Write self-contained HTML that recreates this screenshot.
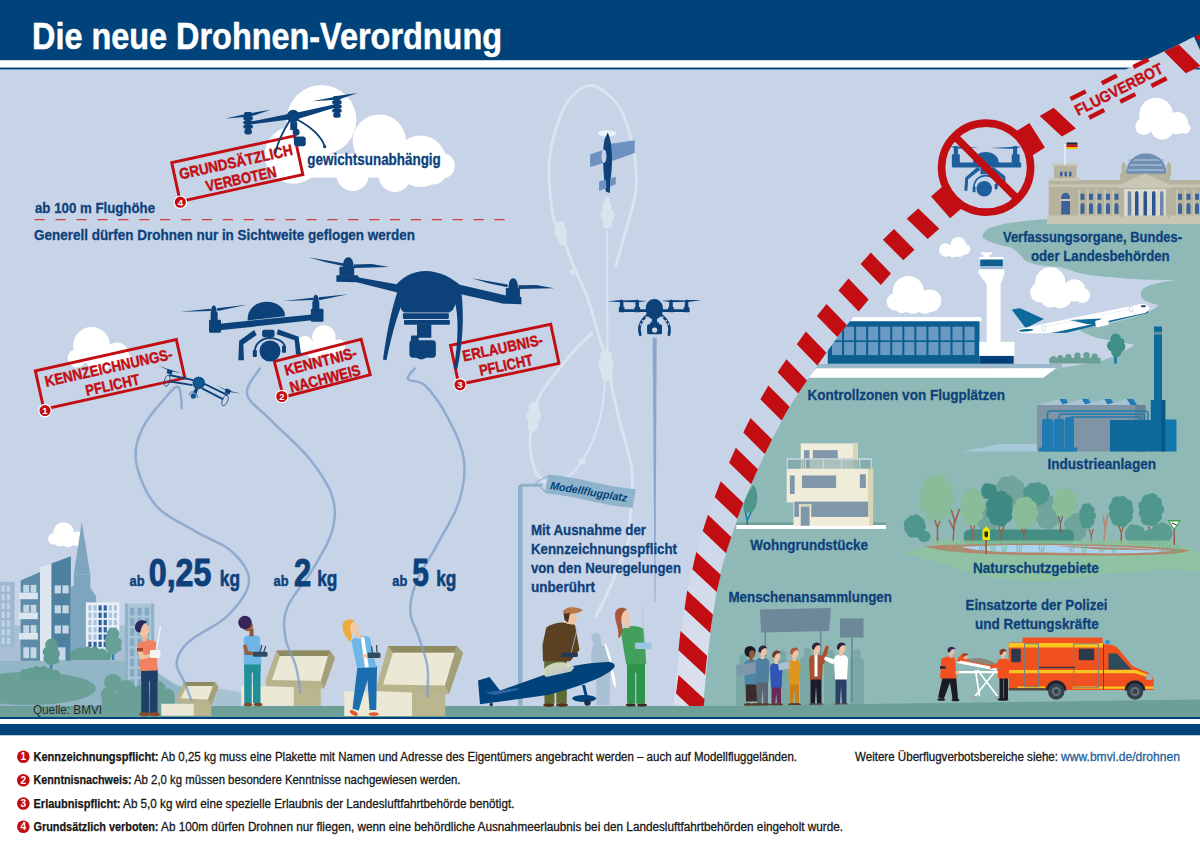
<!DOCTYPE html>
<html lang="de"><head><meta charset="utf-8"><title>Die neue Drohnen-Verordnung</title>
<style>
html,body{margin:0;padding:0;background:#fff;}
svg{display:block}
text{font-family:"Liberation Sans",sans-serif;}
</style></head><body>
<svg width="1200" height="845" viewBox="0 0 1200 845">
<rect x="0" y="0" width="1200" height="845" fill="#fff"/>
<rect x="0" y="60" width="1200" height="660" fill="#c7d3e7"/>
<rect x="0" y="0" width="1200" height="60.4" fill="#00437a"/>
<rect x="0" y="60.4" width="1200" height="7.2" fill="#fff"/>
<rect x="0" y="67.6" width="1200" height="1.8" fill="#00437a"/>
<text x="32" y="49.3" font-size="36" font-weight="bold" fill="#fff" text-anchor="start" textLength="470" lengthAdjust="spacingAndGlyphs" stroke="#fff" stroke-width="0.5">Die neue Drohnen-Verordnung</text>
<circle cx="321.5" cy="119.9" r="34.8" fill="#fff"/><circle cx="379.3" cy="141.0" r="26.6" fill="#fff"/><circle cx="420.5" cy="161.2" r="25.7" fill="#fff"/><circle cx="442.1" cy="165.8" r="12.8" fill="#fff"/><circle cx="433.3" cy="171.3" r="13.2" fill="#fff"/><circle cx="394.8" cy="175.8" r="16.1" fill="#fff"/><circle cx="352.7" cy="174.9" r="16.1" fill="#fff"/><circle cx="293.3" cy="155.0" r="28.7" fill="#fff"/>
<rect x="300" y="153.8" width="133" height="23.8" fill="#fff"/>
<circle cx="91.6" cy="345.4" r="18.4" fill="#fff"/><circle cx="116.8" cy="354.6" r="12.0" fill="#fff"/><circle cx="76.8" cy="358.3" r="9.2" fill="#fff"/><circle cx="99.0" cy="360.1" r="12.4" fill="#fff"/><circle cx="126.4" cy="360.1" r="6.0" fill="#fff"/>
<circle cx="323.9" cy="337.0" r="11.7" fill="#fff"/><circle cx="304.7" cy="344.5" r="8.5" fill="#fff"/><circle cx="338.8" cy="345.6" r="6.4" fill="#fff"/><circle cx="315.0" cy="350.0" r="9.0" fill="#fff"/><circle cx="330.0" cy="350.0" r="8.0" fill="#fff"/>
<circle cx="63.6" cy="532.5" r="10.2" fill="#fff"/><circle cx="77.2" cy="538.8" r="7.3" fill="#fff"/><circle cx="53.9" cy="538.8" r="5.8" fill="#fff"/><circle cx="68.0" cy="540.5" r="6.8" fill="#fff"/><circle cx="59.5" cy="541.2" r="5.3" fill="#fff"/>
<circle cx="1156.1" cy="114.6" r="16.9" fill="#fff"/><circle cx="1177.0" cy="123.1" r="11.0" fill="#fff"/><circle cx="1143.8" cy="126.5" r="8.5" fill="#fff"/><circle cx="1162.2" cy="128.2" r="11.4" fill="#fff"/><circle cx="1185.0" cy="128.2" r="5.5" fill="#fff"/>
<g transform="translate(0,515) scale(0.24272)" ><rect x="0" y="455" width="545" height="160" fill="#a9bfd4"/><path d="M746,707 L904,716 L989,730 L1100,790 L746,790 Z" fill="#a6c2d3"/><path d="M0,600 L640,600 L640,643 C680,672 720,700 746,707 L746,790 L0,790 Z" fill="#93b6c7"/><rect x="0" y="275" width="60" height="270" fill="#9db8cf"/><rect x="6" y="290" width="14" height="26" fill="#bfd2e3"/><rect x="28" y="290" width="14" height="26" fill="#bfd2e3"/><rect x="6" y="326" width="14" height="26" fill="#bfd2e3"/><rect x="28" y="326" width="14" height="26" fill="#bfd2e3"/><rect x="6" y="362" width="14" height="26" fill="#bfd2e3"/><rect x="28" y="362" width="14" height="26" fill="#bfd2e3"/><rect x="6" y="398" width="14" height="26" fill="#bfd2e3"/><rect x="28" y="398" width="14" height="26" fill="#bfd2e3"/><rect x="6" y="434" width="14" height="26" fill="#bfd2e3"/><rect x="28" y="434" width="14" height="26" fill="#bfd2e3"/><rect x="6" y="470" width="14" height="26" fill="#bfd2e3"/><rect x="28" y="470" width="14" height="26" fill="#bfd2e3"/><rect x="6" y="506" width="14" height="26" fill="#bfd2e3"/><rect x="28" y="506" width="14" height="26" fill="#bfd2e3"/><polygon points="85,270 165,235 165,600 85,600" fill="#5d8ca8"/><polygon points="165,215 212,200 212,600 165,600" fill="#dde6ef"/><polygon points="212,200 292,170 292,600 212,600" fill="#4d819f"/><rect x="78" y="320" width="78" height="27" fill="#dde6ef"/><rect x="96" y="288" width="24" height="32" fill="#c5d7e4"/><rect x="126" y="288" width="24" height="32" fill="#c5d7e4"/><rect x="78" y="402" width="78" height="27" fill="#dde6ef"/><rect x="96" y="370" width="24" height="32" fill="#c5d7e4"/><rect x="126" y="370" width="24" height="32" fill="#c5d7e4"/><rect x="78" y="486" width="78" height="27" fill="#dde6ef"/><rect x="96" y="454" width="24" height="32" fill="#c5d7e4"/><rect x="126" y="454" width="24" height="32" fill="#c5d7e4"/><rect x="96" y="545" width="24" height="45" fill="#c5d7e4"/><rect x="126" y="545" width="24" height="45" fill="#c5d7e4"/><rect x="225" y="290" width="26" height="33" fill="#c5d7e4"/><rect x="257" y="290" width="26" height="33" fill="#c5d7e4"/><rect x="225" y="372" width="26" height="33" fill="#c5d7e4"/><rect x="257" y="372" width="26" height="33" fill="#c5d7e4"/><rect x="225" y="455" width="26" height="33" fill="#c5d7e4"/><rect x="257" y="455" width="26" height="33" fill="#c5d7e4"/><rect x="238" y="545" width="32" height="55" fill="#c5d7e4"/><polygon points="337,28 372,245 304,245" fill="#7da5bf"/><polygon points="304,245 372,245 372,300 396,335 396,560 290,560 290,300 304,290" fill="#7da5bf"/><rect x="354" y="360" width="138" height="195" fill="#e9eff6"/><rect x="364" y="372" width="13" height="22" fill="#a9c5de"/><rect x="385" y="372" width="13" height="22" fill="#a9c5de"/><rect x="406" y="372" width="13" height="22" fill="#2f62a0"/><rect x="427" y="372" width="13" height="22" fill="#2f62a0"/><rect x="448" y="372" width="13" height="22" fill="#a9c5de"/><rect x="469" y="372" width="13" height="22" fill="#a9c5de"/><rect x="364" y="402" width="13" height="22" fill="#a9c5de"/><rect x="385" y="402" width="13" height="22" fill="#a9c5de"/><rect x="406" y="402" width="13" height="22" fill="#2f62a0"/><rect x="427" y="402" width="13" height="22" fill="#2f62a0"/><rect x="448" y="402" width="13" height="22" fill="#a9c5de"/><rect x="469" y="402" width="13" height="22" fill="#a9c5de"/><rect x="364" y="432" width="13" height="22" fill="#a9c5de"/><rect x="385" y="432" width="13" height="22" fill="#a9c5de"/><rect x="406" y="432" width="13" height="22" fill="#2f62a0"/><rect x="427" y="432" width="13" height="22" fill="#2f62a0"/><rect x="448" y="432" width="13" height="22" fill="#a9c5de"/><rect x="469" y="432" width="13" height="22" fill="#a9c5de"/><rect x="364" y="462" width="13" height="22" fill="#a9c5de"/><rect x="385" y="462" width="13" height="22" fill="#a9c5de"/><rect x="406" y="462" width="13" height="22" fill="#2f62a0"/><rect x="427" y="462" width="13" height="22" fill="#2f62a0"/><rect x="448" y="462" width="13" height="22" fill="#a9c5de"/><rect x="469" y="462" width="13" height="22" fill="#a9c5de"/><rect x="364" y="492" width="13" height="22" fill="#a9c5de"/><rect x="385" y="492" width="13" height="22" fill="#a9c5de"/><rect x="406" y="492" width="13" height="22" fill="#2f62a0"/><rect x="427" y="492" width="13" height="22" fill="#2f62a0"/><rect x="448" y="492" width="13" height="22" fill="#a9c5de"/><rect x="469" y="492" width="13" height="22" fill="#a9c5de"/><rect x="364" y="522" width="13" height="22" fill="#2f62a0"/><rect x="385" y="522" width="13" height="22" fill="#2f62a0"/><rect x="406" y="522" width="13" height="22" fill="#2f62a0"/><rect x="427" y="522" width="13" height="22" fill="#2f62a0"/><rect x="448" y="522" width="13" height="22" fill="#a9c5de"/><rect x="469" y="522" width="13" height="22" fill="#a9c5de"/><rect x="515" y="365" width="120" height="340" fill="#a9c5d8"/><rect x="515" y="365" width="12" height="340" fill="#8fb2c8"/><rect x="623" y="365" width="12" height="340" fill="#8fb2c8"/><rect x="536" y="382" width="18" height="32" fill="#84a9c2"/><rect x="566" y="382" width="18" height="32" fill="#84a9c2"/><rect x="596" y="382" width="18" height="32" fill="#84a9c2"/><rect x="536" y="424" width="18" height="32" fill="#84a9c2"/><rect x="566" y="424" width="18" height="32" fill="#84a9c2"/><rect x="596" y="424" width="18" height="32" fill="#84a9c2"/><rect x="536" y="466" width="18" height="32" fill="#84a9c2"/><rect x="566" y="466" width="18" height="32" fill="#84a9c2"/><rect x="596" y="466" width="18" height="32" fill="#84a9c2"/><rect x="536" y="508" width="18" height="32" fill="#84a9c2"/><rect x="566" y="508" width="18" height="32" fill="#84a9c2"/><rect x="596" y="508" width="18" height="32" fill="#84a9c2"/><rect x="536" y="550" width="18" height="32" fill="#84a9c2"/><rect x="566" y="550" width="18" height="32" fill="#84a9c2"/><rect x="596" y="550" width="18" height="32" fill="#84a9c2"/><rect x="536" y="592" width="18" height="32" fill="#84a9c2"/><rect x="566" y="592" width="18" height="32" fill="#84a9c2"/><rect x="596" y="592" width="18" height="32" fill="#84a9c2"/><rect x="536" y="634" width="18" height="32" fill="#84a9c2"/><rect x="566" y="634" width="18" height="32" fill="#84a9c2"/><rect x="596" y="634" width="18" height="32" fill="#84a9c2"/><rect x="536" y="676" width="18" height="32" fill="#84a9c2"/><rect x="566" y="676" width="18" height="32" fill="#84a9c2"/><rect x="596" y="676" width="18" height="32" fill="#84a9c2"/><rect x="206" y="600" width="10" height="48" fill="#3f7dab"/><circle cx="212" cy="535" r="26" fill="#5f9b91"/><circle cx="200" cy="565" r="24" fill="#5f9b91"/><circle cx="225" cy="572" r="22" fill="#5f9b91"/><circle cx="210" cy="595" r="24" fill="#5f9b91"/><circle cx="195" cy="590" r="16" fill="#5f9b91"/><circle cx="230" cy="598" r="14" fill="#5f9b91"/><rect x="461" y="560" width="10" height="38" fill="#3f7dab"/><circle cx="466" cy="490" r="26" fill="#66a096"/><circle cx="455" cy="520" r="24" fill="#66a096"/><circle cx="480" cy="525" r="22" fill="#66a096"/><circle cx="466" cy="548" r="26" fill="#66a096"/><circle cx="448" cy="545" r="14" fill="#66a096"/><circle cx="488" cy="550" r="12" fill="#66a096"/><circle cx="305" cy="575" r="18" fill="#639d92"/><circle cx="330" cy="565" r="20" fill="#639d92"/><circle cx="360" cy="560" r="18" fill="#639d92"/><circle cx="390" cy="562" r="20" fill="#639d92"/><circle cx="420" cy="568" r="18" fill="#639d92"/><circle cx="445" cy="578" r="14" fill="#639d92"/><rect x="290" y="570" width="165" height="28" fill="#639d92"/><ellipse cx="120" cy="715" rx="275" ry="68" fill="#6d9f99"/><circle cx="100" cy="650" r="16" fill="#639d92"/><circle cx="125" cy="645" r="16" fill="#639d92"/><circle cx="150" cy="640" r="18" fill="#639d92"/><circle cx="180" cy="640" r="18" fill="#639d92"/><circle cx="205" cy="645" r="16" fill="#639d92"/><circle cx="230" cy="655" r="16" fill="#639d92"/><rect x="84" y="650" width="165" height="32" rx="6" fill="#639d92"/><circle cx="465" cy="690" r="36" fill="#6a9f96"/><circle cx="520" cy="720" r="40" fill="#6a9f96"/><circle cx="445" cy="740" r="30" fill="#6a9f96"/><circle cx="580" cy="735" r="34" fill="#6a9f96"/><circle cx="650" cy="715" r="32" fill="#6a9f96"/><circle cx="690" cy="745" r="30" fill="#6a9f96"/><circle cx="480" cy="770" r="40" fill="#6a9f96"/><circle cx="560" cy="770" r="40" fill="#6a9f96"/><circle cx="640" cy="770" r="40" fill="#6a9f96"/><rect x="420" y="740" width="300" height="50" fill="#6a9f96"/></g>
<path fill="#8fb9b6" d="M701.9,707.5 L702.0,706.6 L702.1,705.7 L702.2,705.0 L702.3,704.4 L702.3,703.8 L702.4,703.3 L702.5,702.8 L702.6,702.2 L702.6,701.7 L702.7,701.1 L702.8,700.5 L702.9,699.8 L703.0,699.0 L703.1,698.2 L703.2,697.3 L703.4,696.4 L703.5,695.3 L703.6,694.1 L703.8,692.9 L703.9,691.5 L704.1,689.9 L704.2,688.3 L704.4,686.5 L704.6,684.7 L704.8,682.8 L705.0,680.8 L705.2,678.7 L705.3,676.6 L705.5,674.4 L705.8,672.2 L706.0,670.0 L706.2,667.8 L706.4,665.5 L706.6,663.3 L706.8,661.1 L707.0,658.9 L707.3,656.7 L707.5,654.6 L707.7,652.5 L707.9,650.5 L708.1,648.6 L708.4,646.6 L708.6,644.6 L708.8,642.7 L709.0,640.7 L709.3,638.8 L709.5,636.9 L709.7,635.0 L710.0,633.0 L710.2,631.1 L710.4,629.2 L710.7,627.3 L710.9,625.4 L711.2,623.5 L711.5,621.6 L711.7,619.7 L712.0,617.8 L712.3,615.9 L712.5,614.0 L712.8,612.1 L713.1,610.2 L713.4,608.2 L713.7,606.3 L714.0,604.3 L714.3,602.4 L714.7,600.4 L715.0,598.5 L715.3,596.6 L715.6,594.7 L715.9,592.8 L716.3,590.8 L716.6,589.0 L716.9,587.1 L717.3,585.2 L717.7,583.3 L718.0,581.5 L718.4,579.6 L718.8,577.8 L719.2,576.0 L719.6,574.2 L720.1,572.4 L720.5,570.7 L721.0,568.9 L721.4,567.1 L721.9,565.3 L722.4,563.5 L723.0,561.7 L723.5,559.9 L724.0,558.1 L724.6,556.3 L725.1,554.5 L725.7,552.7 L726.3,550.9 L726.8,549.1 L727.4,547.3 L728.0,545.5 L728.6,543.7 L729.2,541.9 L729.7,540.1 L730.3,538.3 L730.9,536.6 L731.4,534.8 L732.0,533.1 L732.6,531.4 L733.1,529.7 L733.7,528.1 L734.3,526.4 L734.8,524.7 L735.4,523.1 L736.0,521.5 L736.6,519.8 L737.2,518.2 L737.7,516.5 L738.3,514.9 L738.9,513.3 L739.5,511.7 L740.2,510.0 L740.8,508.4 L741.4,506.7 L742.0,505.1 L742.7,503.4 L743.3,501.8 L744.0,500.1 L744.7,498.4 L745.4,496.8 L746.1,495.1 L746.8,493.4 L747.5,491.7 L748.2,490.0 L749.0,488.3 L749.7,486.6 L750.4,484.9 L751.2,483.2 L751.9,481.5 L752.6,479.9 L753.4,478.2 L754.1,476.6 L754.8,474.9 L755.6,473.3 L756.3,471.7 L757.0,470.2 L757.7,468.6 L758.4,467.1 L759.0,465.6 L759.7,464.1 L760.4,462.7 L761.1,461.2 L761.7,459.8 L762.4,458.4 L763.1,456.9 L763.8,455.5 L764.4,454.1 L765.1,452.6 L765.8,451.2 L766.5,449.7 L767.2,448.3 L768.0,446.8 L768.7,445.3 L769.5,443.8 L770.2,442.3 L771.0,440.7 L771.8,439.1 L772.6,437.4 L773.5,435.8 L774.3,434.1 L775.2,432.4 L776.0,430.8 L776.9,429.1 L777.7,427.4 L778.6,425.7 L779.5,424.1 L780.3,422.4 L781.2,420.8 L782.1,419.1 L782.9,417.5 L783.8,416.0 L784.6,414.4 L785.5,412.9 L786.3,411.5 L787.1,410.0 L787.9,408.6 L788.7,407.3 L789.5,406.0 L790.3,404.7 L791.1,403.4 L791.9,402.1 L792.7,400.9 L793.5,399.6 L794.4,398.4 L795.2,397.1 L796.0,395.9 L796.8,394.6 L797.7,393.4 L798.5,392.1 L799.4,390.9 L800.3,389.6 L801.2,388.3 L802.1,386.9 L803.0,385.6 L803.9,384.2 L804.8,382.9 L805.7,381.5 L806.7,380.1 L807.6,378.8 L808.5,377.4 L809.5,376.0 L810.4,374.7 L811.4,373.3 L812.3,371.9 L813.3,370.5 L814.2,369.1 L815.2,367.7 L816.2,366.3 L817.1,364.9 L1054.0,369.0 L1055.9,368.7 L1058.3,368.3 L1061.3,367.8 L1064.6,367.2 L1068.0,366.7 L1071.5,366.1 L1074.9,365.5 L1078.0,365.0 L1080.9,364.5 L1083.8,364.1 L1086.7,363.7 L1089.5,363.3 L1092.4,362.8 L1095.2,362.3 L1097.9,361.7 L1100.6,361.0 L1103.3,360.2 L1105.9,359.2 L1108.6,358.2 L1111.2,357.2 L1113.7,356.1 L1116.2,354.9 L1118.5,353.8 L1120.7,352.8 L1122.8,351.7 L1125.0,350.6 L1127.0,349.4 L1129.0,348.2 L1130.8,347.1 L1132.4,346.2 L1133.8,345.3 L1134.8,344.7 L1134.8,344.7 L1133.1,344.4 L1130.7,344.0 L1127.9,343.4 L1124.8,342.9 L1121.5,342.3 L1118.3,341.7 L1115.3,341.2 L1112.7,340.7 L1110.4,340.3 L1108.2,339.9 L1106.0,339.6 L1104.0,339.3 L1102.1,338.9 L1100.2,338.6 L1098.4,338.2 L1096.6,337.7 L1094.9,337.2 L1093.2,336.6 L1091.5,335.9 L1089.9,335.2 L1088.5,334.6 L1087.0,333.9 L1085.7,333.3 L1084.5,332.7 L1083.4,332.2 L1082.3,331.6 L1081.4,331.1 L1080.5,330.5 L1079.7,330.1 L1079.0,329.6 L1078.5,329.3 L1078.0,329.0 L1078.0,329.0 L1079.7,328.7 L1082.0,328.3 L1084.7,327.8 L1087.7,327.3 L1090.9,326.7 L1094.1,326.1 L1097.2,325.5 L1100.0,325.0 L1102.6,324.5 L1105.2,324.0 L1107.7,323.5 L1110.2,323.0 L1112.7,322.5 L1115.3,321.9 L1118.0,321.3 L1120.7,320.6 L1123.6,319.9 L1126.7,319.1 L1130.0,318.2 L1133.2,317.3 L1136.4,316.4 L1139.5,315.5 L1142.3,314.5 L1144.9,313.6 L1147.2,312.6 L1149.5,311.5 L1151.5,310.3 L1153.5,309.1 L1155.2,308.0 L1156.7,307.0 L1158.0,306.1 L1159.0,305.5 L1159.0,305.5 L1157.9,305.1 L1156.3,304.6 L1154.3,304.0 L1152.3,303.4 L1150.1,302.7 L1148.1,301.9 L1146.4,301.2 L1145.0,300.5 L1143.9,299.8 L1143.1,299.1 L1142.3,298.3 L1141.8,297.6 L1141.3,296.8 L1141.0,296.0 L1140.9,295.2 L1140.8,294.4 L1140.8,293.6 L1141.0,292.7 L1141.2,291.8 L1141.6,290.8 L1142.2,289.9 L1142.9,289.0 L1143.9,288.2 L1145.0,287.4 L1146.4,286.7 L1148.2,285.9 L1150.2,285.3 L1152.4,284.6 L1154.6,284.0 L1156.9,283.4 L1159.0,282.9 L1161.0,282.4 L1162.9,282.0 L1165.0,281.6 L1167.0,281.2 L1169.0,280.9 L1170.9,280.6 L1172.5,280.4 L1173.9,280.2 L1175.0,280.0 L1175.0,280.0 L1172.4,280.0 L1169.0,280.0 L1164.9,279.9 L1160.4,279.9 L1155.6,279.8 L1150.6,279.7 L1145.6,279.6 L1140.8,279.4 L1135.9,279.1 L1130.7,278.8 L1125.3,278.4 L1119.8,278.0 L1114.5,277.6 L1109.4,277.1 L1104.7,276.7 L1100.6,276.3 L1097.1,275.9 L1094.2,275.6 L1091.6,275.3 L1089.3,275.0 L1087.2,274.6 L1085.1,274.3 L1082.9,273.8 L1080.5,273.3 L1078.0,272.7 L1075.5,271.9 L1073.0,271.1 L1070.5,270.2 L1068.0,269.4 L1065.4,268.6 L1062.9,267.9 L1060.4,267.3 L1057.8,266.9 L1055.2,266.6 L1052.5,266.4 L1049.8,266.2 L1047.2,266.0 L1044.7,265.9 L1042.2,265.6 L1040.0,265.3 L1037.9,264.9 L1035.8,264.4 L1033.8,263.8 L1032.0,263.3 L1030.2,262.7 L1028.6,262.1 L1027.2,261.5 L1026.0,261.0 L1025.1,260.5 L1024.4,260.1 L1024.0,259.7 L1023.8,259.3 L1023.5,258.9 L1023.2,258.3 L1022.7,257.7 L1022.0,257.0 L1021.1,256.1 L1020.0,255.0 L1018.8,253.7 L1017.5,252.4 L1016.2,251.2 L1014.8,249.9 L1013.4,248.9 L1012.0,248.0 L1010.6,247.3 L1009.1,246.9 L1007.6,246.5 L1006.1,246.2 L1004.6,245.9 L1003.0,245.7 L1001.5,245.4 L1000.0,245.0 L998.5,244.5 L996.9,244.1 L995.2,243.6 L993.6,243.1 L992.1,242.5 L990.6,242.0 L989.2,241.5 L988.0,241.0 L986.9,240.5 L985.9,239.9 L985.0,239.3 L984.2,238.8 L983.5,238.2 L982.9,237.7 L982.4,237.3 L982.0,237.0 L982.0,237.0 L982.4,236.4 L982.7,235.5 L983.1,234.5 L983.6,233.4 L984.3,232.2 L985.2,231.0 L986.4,230.0 L988.0,229.0 L989.9,228.1 L992.0,227.3 L994.3,226.5 L996.9,225.8 L999.8,225.0 L1002.9,224.3 L1006.3,223.6 L1010.0,223.0 L1014.0,222.4 L1018.3,221.8 L1022.9,221.3 L1027.7,220.8 L1032.7,220.3 L1038.0,219.8 L1043.4,219.4 L1049.0,219.0 L1054.5,218.7 L1059.8,218.4 L1065.1,218.1 L1070.7,217.9 L1076.8,217.7 L1083.5,217.5 L1091.2,217.3 L1100.0,217.0 L1110.8,216.7 L1123.9,216.2 L1138.3,215.8 L1153.2,215.4 L1167.7,214.9 L1180.9,214.6 L1192.0,214.2 L1200.0,214.0 L1200.0,214.0 L1200.0,712.0 Z"/>
<g transform="translate(800,240) scale(0.21668)" ><polygon points="60,572 1210,572 1210,592 40,592" fill="#9bb7ca"/><polygon points="75,592 1182,592 1122,636 38,636" fill="#fff"/><polygon points="245,355 835,355 840,376 225,376" fill="#fff"/><polygon points="228,375 828,375 828,571 128,571 128,482" fill="#0d5f92"/><clipPath id="termclip"><polygon points="222,390 828,390 828,560 140,560 140,480"/></clipPath><g clip-path="url(#termclip)"><rect x="148.0" y="400" width="46" height="63" fill="#6a9ac4"/><rect x="203.6" y="400" width="46" height="63" fill="#6a9ac4"/><rect x="259.2" y="400" width="46" height="63" fill="#6a9ac4"/><rect x="314.8" y="400" width="46" height="63" fill="#6a9ac4"/><rect x="370.4" y="400" width="46" height="63" fill="#6a9ac4"/><rect x="426.0" y="400" width="46" height="63" fill="#6a9ac4"/><rect x="481.6" y="400" width="46" height="63" fill="#6a9ac4"/><rect x="537.2" y="400" width="46" height="63" fill="#6a9ac4"/><rect x="592.8" y="400" width="46" height="63" fill="#6a9ac4"/><rect x="648.4" y="400" width="46" height="63" fill="#6a9ac4"/><rect x="704.0" y="400" width="46" height="63" fill="#6a9ac4"/><rect x="759.6" y="400" width="46" height="63" fill="#6a9ac4"/><rect x="148.0" y="471" width="46" height="60" fill="#6a9ac4"/><rect x="203.6" y="471" width="46" height="60" fill="#6a9ac4"/><rect x="259.2" y="471" width="46" height="60" fill="#6a9ac4"/><rect x="314.8" y="471" width="46" height="60" fill="#6a9ac4"/><rect x="370.4" y="471" width="46" height="60" fill="#6a9ac4"/><rect x="426.0" y="471" width="46" height="60" fill="#6a9ac4"/><rect x="481.6" y="471" width="46" height="60" fill="#6a9ac4"/><rect x="537.2" y="471" width="46" height="60" fill="#6a9ac4"/><rect x="592.8" y="471" width="46" height="60" fill="#6a9ac4"/><rect x="648.4" y="471" width="46" height="60" fill="#6a9ac4"/><rect x="704.0" y="471" width="46" height="60" fill="#6a9ac4"/><rect x="759.6" y="471" width="46" height="60" fill="#6a9ac4"/></g><rect x="828" y="470" width="162" height="66" fill="#fff"/><rect x="828" y="535" width="158" height="36" fill="#003f77"/><polygon points="818,145 946,145 926,205 926,472 862,472 862,205" fill="#fff"/><rect x="832" y="86" width="104" height="36" fill="#0d5f92"/><rect x="827" y="78" width="112" height="12" rx="3" fill="#fff"/><rect x="834" y="120" width="100" height="17" fill="#9dbbd8"/><rect x="826" y="135" width="116" height="12" fill="#fff"/><rect x="846" y="62" width="30" height="18" fill="#fff"/><rect x="835" y="57" width="52" height="9" rx="3" fill="#fff"/><circle cx="500.0" cy="238.0" r="72.0" fill="#fff"/><circle cx="600.0" cy="280.0" r="52.0" fill="#fff"/><circle cx="440.0" cy="285.0" r="40.0" fill="#fff"/><circle cx="520.0" cy="290.0" r="50.0" fill="#fff"/><circle cx="470.0" cy="300.0" r="38.0" fill="#fff"/><circle cx="575.0" cy="300.0" r="40.0" fill="#fff"/><circle cx="730.5" cy="21.7" r="35.5" fill="#fff"/><circle cx="672.9" cy="46.0" r="31.0" fill="#fff"/><circle cx="761.5" cy="42.5" r="24.5" fill="#fff"/><circle cx="707.5" cy="54.0" r="27.0" fill="#fff"/><circle cx="735.0" cy="52.0" r="26.0" fill="#fff"/></g>
<g transform="translate(1000,220) scale(0.20121)" ><circle cx="250.0" cy="310.0" r="75.0" fill="#fff"/><circle cx="370.0" cy="350.0" r="55.0" fill="#fff"/><circle cx="200.0" cy="360.0" r="50.0" fill="#fff"/><circle cx="300.0" cy="380.0" r="58.0" fill="#fff"/><circle cx="410.0" cy="375.0" r="38.0" fill="#fff"/><circle cx="250.0" cy="385.0" r="50.0" fill="#fff"/><polygon points="58,445 100,438 218,492 128,538" fill="#0e6a9b"/><path d="M88,548 C100,538 120,536 135,533 L700,418 C725,415 745,430 742,443 C740,455 725,462 712,465 L300,556 C230,565 150,566 120,562 C95,560 85,555 88,548 Z" fill="#fff"/><path d="M255,562 L715,463 C725,460 735,455 740,447 L735,462 L330,560 Z" fill="#0e6a9b"/><polygon points="348,497 505,490 470,522 425,516" fill="#0e6a9b"/><rect x="474" y="494" width="66" height="34" rx="8" fill="#fff" transform="rotate(-12 507 511)"/><ellipse cx="130" cy="548" rx="36" ry="6" fill="#0e6a9b" transform="rotate(-5 130 548)"/><path d="M225,530 L440,487 M490,475 L640,445" stroke="#b9c9d8" stroke-width="4" stroke-dasharray="3,5"/><rect x="208" y="524" width="16" height="26" rx="4" fill="none" stroke="#b9c9d8" stroke-width="3" transform="rotate(-12 216 537)"/><rect x="643" y="430" width="16" height="26" rx="4" fill="none" stroke="#b9c9d8" stroke-width="3" transform="rotate(-12 651 443)"/><path d="M700,424 L722,424 L726,432 L703,434 Z" fill="#1f3f66"/><rect x="567" y="672" width="14" height="42" fill="#1f7aa8"/><circle cx="575" cy="590" r="26" fill="#3f8f86"/><circle cx="560" cy="625" r="28" fill="#3f8f86"/><circle cx="595" cy="630" r="28" fill="#3f8f86"/><circle cx="578" cy="655" r="26" fill="#3f8f86"/><circle cx="600" cy="605" r="18" fill="#3f8f86"/><circle cx="265" cy="690" r="14" fill="#6a9f96"/><circle cx="300" cy="685" r="14" fill="#6a9f96"/><circle cx="340" cy="682" r="16" fill="#6a9f96"/><circle cx="385" cy="675" r="16" fill="#6a9f96"/><circle cx="430" cy="672" r="16" fill="#6a9f96"/><circle cx="470" cy="680" r="16" fill="#6a9f96"/><rect x="245" y="685" width="255" height="28" rx="5" fill="#6a9f96"/></g>
<g transform="translate(900,30) scale(0.25000)" ><path d="M908,580 C908,525 945,498 985,498 C1025,498 1062,525 1062,580 Z" fill="#6e90b2"/><path d="M912,520 L1058,520" stroke="#a4bbd1" stroke-width="6"/><path d="M910,540 L1058,540" stroke="#a4bbd1" stroke-width="6"/><path d="M908,560 L1058,560" stroke="#a4bbd1" stroke-width="6"/><path d="M908,580 C908,525 945,498 985,498 C1025,498 1062,525 1062,580" fill="none" stroke="#6e90b2" stroke-width="8"/><rect x="595" y="600" width="620" height="150" fill="#b5b3a0"/><rect x="588" y="742" width="630" height="34" fill="#c8c6b5"/><rect x="598" y="618" width="620" height="10" fill="#c8c6b5"/><rect x="616" y="540" width="90" height="70" fill="#b5b3a0"/><rect x="610" y="534" width="102" height="10" fill="#c8c6b5"/><rect x="600" y="592" width="120" height="12" fill="#c8c6b5"/><rect x="640" y="566" width="10" height="20" rx="4" fill="#3d6298"/><rect x="658" y="566" width="10" height="20" rx="4" fill="#3d6298"/><rect x="676" y="566" width="10" height="20" rx="4" fill="#3d6298"/><path d="M645,738 L645,670 C645,645 680,645 680,670 L680,738 Z" fill="#3d6298"/><rect x="640" y="676" width="45" height="8" fill="#c8c6b5"/><rect x="658" y="455" width="4" height="85" fill="#fff"/><rect x="666" y="450" width="44" height="9" fill="#222"/><rect x="666" y="459" width="44" height="9" fill="#d4141a"/><rect x="666" y="468" width="44" height="8" fill="#f2c300"/><rect x="722" y="655" width="16" height="24" fill="#3d6298"/><path d="M722,735 L722,702 C722,688 738,688 738,702 L738,735 Z" fill="#3d6298"/><rect x="714" y="640" width="6" height="100" fill="#c8c6b5"/><rect x="756" y="655" width="16" height="24" fill="#3d6298"/><path d="M756,735 L756,702 C756,688 772,688 772,702 L772,735 Z" fill="#3d6298"/><rect x="748" y="640" width="6" height="100" fill="#c8c6b5"/><rect x="790" y="655" width="16" height="24" fill="#3d6298"/><path d="M790,735 L790,702 C790,688 806,688 806,702 L806,735 Z" fill="#3d6298"/><rect x="782" y="640" width="6" height="100" fill="#c8c6b5"/><rect x="824" y="655" width="16" height="24" fill="#3d6298"/><path d="M824,735 L824,702 C824,688 840,688 840,702 L840,735 Z" fill="#3d6298"/><rect x="816" y="640" width="6" height="100" fill="#c8c6b5"/><rect x="858" y="655" width="16" height="24" fill="#3d6298"/><path d="M858,735 L858,702 C858,688 874,688 874,702 L874,735 Z" fill="#3d6298"/><rect x="850" y="640" width="6" height="100" fill="#c8c6b5"/><rect x="1112" y="655" width="16" height="24" fill="#3d6298"/><path d="M1112,735 L1112,702 C1112,688 1128,688 1128,702 L1128,735 Z" fill="#3d6298"/><rect x="1104" y="640" width="6" height="100" fill="#c8c6b5"/><rect x="1146" y="655" width="16" height="24" fill="#3d6298"/><path d="M1146,735 L1146,702 C1146,688 1162,688 1162,702 L1162,735 Z" fill="#3d6298"/><rect x="1138" y="640" width="6" height="100" fill="#c8c6b5"/><rect x="1180" y="655" width="16" height="24" fill="#3d6298"/><path d="M1180,735 L1180,702 C1180,688 1196,688 1196,702 L1196,735 Z" fill="#3d6298"/><rect x="1172" y="640" width="6" height="100" fill="#c8c6b5"/><rect x="880" y="575" width="200" height="175" fill="#b5b3a0"/><polygon points="872,622 980,574 1088,622" fill="#c8c6b5"/><rect x="872" y="620" width="216" height="12" fill="#c8c6b5"/><rect x="886" y="540" width="18" height="45" fill="#b5b3a0"/><polygon points="886,542 895,525 904,542" fill="#b5b3a0"/><rect x="1066" y="540" width="18" height="45" fill="#b5b3a0"/><polygon points="1066,542 1075,525 1084,542" fill="#b5b3a0"/><rect x="896" y="636" width="168" height="116" fill="#d9d9cd"/><path d="M911,752 L911,655 C911,640 925,640 925,655 L925,752 Z" fill="#6f86ab"/><path d="M940,752 L940,655 C940,640 954,640 954,655 L954,752 Z" fill="#2a538f"/><path d="M974,752 L974,655 C974,640 988,640 988,655 L988,752 Z" fill="#2a538f"/><path d="M1008,752 L1008,655 C1008,640 1022,640 1022,655 L1022,752 Z" fill="#2a538f"/><path d="M1040,752 L1040,655 C1040,640 1054,640 1054,655 L1054,752 Z" fill="#6f86ab"/><rect x="890" y="742" width="180" height="10" fill="#c8c6b5"/></g>
<g transform="translate(900,380) scale(0.25000)" ><polygon points="250,286 400,256 552,256 552,286" fill="#a6c8da"/><rect x="548" y="100" width="434" height="186" fill="#7f94a4"/><polygon points="552,100 637,76 667,76 680,100" fill="#a9c3d6"/><polygon points="637,76 664,76 678,100 652,100" fill="#1f7bb1"/><polygon points="642,100 727,76 757,76 770,100" fill="#a9c3d6"/><polygon points="727,76 754,76 768,100 742,100" fill="#1f7bb1"/><polygon points="732,100 817,76 847,76 860,100" fill="#a9c3d6"/><polygon points="817,76 844,76 858,100 832,100" fill="#1f7bb1"/><polygon points="822,100 907,76 937,76 950,100" fill="#a9c3d6"/><polygon points="907,76 934,76 948,100 922,100" fill="#1f7bb1"/><rect x="940" y="100" width="42" height="186" fill="#6b8090"/><path d="M590,165 L590,136 Q590,124 602,124 L980,124 Q992,124 992,136 L992,165" fill="none" stroke="#1f7bb1" stroke-width="6"/><path d="M636,165 L636,148 Q636,136 648,136 L966,136 Q978,136 978,148 L978,165" fill="none" stroke="#1f7bb1" stroke-width="6"/><path d="M678,165 L678,160 Q678,148 690,148 L952,148 Q964,148 964,160 L964,165" fill="none" stroke="#1f7bb1" stroke-width="6"/><rect x="568" y="155" width="44" height="131" rx="12" fill="#1f7bb1"/><rect x="614" y="155" width="44" height="131" rx="12" fill="#1f7bb1"/><rect x="660" y="148" width="36" height="138" rx="12" fill="#1f7bb1"/><rect x="555" y="270" width="154" height="16" fill="#1f7bb1"/><rect x="840" y="160" width="168" height="126" fill="#0e6a9b"/><rect x="1058" y="158" width="48" height="128" fill="#1176ab"/><rect x="1016" y="-214" width="32" height="300" fill="#0e6a9b"/><rect x="1016" y="-193" width="32" height="12" fill="#6b8a9f"/><rect x="1003" y="80" width="58" height="206" fill="#0e6a9b"/><rect x="1044" y="80" width="17" height="206" fill="#0a5985"/></g>
<g transform="translate(900,380) scale(0.25000)" ><path d="M15,697 C60,680 100,668 160,660 L1100,655 C1150,665 1190,680 1215,700 L1215,772 C1150,760 1080,752 1000,762 C900,775 800,775 720,790 C600,812 480,805 400,796 C300,780 200,745 120,722 C80,710 40,700 15,697 Z" fill="#8fc1a3"/><ellipse cx="440" cy="450" rx="50" ry="53" fill="#70a49c"/><circle cx="478" cy="450" r="31" fill="#70a49c"/><circle cx="469" cy="476" r="29" fill="#70a49c"/><circle cx="447" cy="490" r="28" fill="#70a49c"/><circle cx="421" cy="485" r="29" fill="#70a49c"/><circle cx="404" cy="464" r="28" fill="#70a49c"/><circle cx="404" cy="436" r="27" fill="#70a49c"/><circle cx="421" cy="415" r="29" fill="#70a49c"/><circle cx="447" cy="410" r="27" fill="#70a49c"/><circle cx="469" cy="424" r="26" fill="#70a49c"/><ellipse cx="590" cy="530" rx="42" ry="60" fill="#70a49c"/><circle cx="622" cy="530" r="26" fill="#70a49c"/><circle cx="615" cy="560" r="24" fill="#70a49c"/><circle cx="596" cy="575" r="23" fill="#70a49c"/><circle cx="574" cy="570" r="22" fill="#70a49c"/><circle cx="560" cy="546" r="24" fill="#70a49c"/><circle cx="560" cy="514" r="24" fill="#70a49c"/><circle cx="574" cy="490" r="24" fill="#70a49c"/><circle cx="596" cy="485" r="24" fill="#70a49c"/><circle cx="615" cy="500" r="24" fill="#70a49c"/><ellipse cx="705" cy="588" rx="35" ry="49" fill="#70a49c"/><circle cx="732" cy="588" r="20" fill="#70a49c"/><circle cx="726" cy="613" r="19" fill="#70a49c"/><circle cx="710" cy="626" r="22" fill="#70a49c"/><circle cx="691" cy="621" r="21" fill="#70a49c"/><circle cx="679" cy="601" r="21" fill="#70a49c"/><circle cx="679" cy="575" r="23" fill="#70a49c"/><circle cx="691" cy="555" r="19" fill="#70a49c"/><circle cx="710" cy="550" r="19" fill="#70a49c"/><circle cx="726" cy="563" r="19" fill="#70a49c"/><ellipse cx="350" cy="560" rx="32" ry="51" fill="#70a49c"/><circle cx="375" cy="560" r="20" fill="#70a49c"/><circle cx="369" cy="585" r="20" fill="#70a49c"/><circle cx="354" cy="599" r="20" fill="#70a49c"/><circle cx="338" cy="594" r="19" fill="#70a49c"/><circle cx="327" cy="574" r="19" fill="#70a49c"/><circle cx="327" cy="546" r="17" fill="#70a49c"/><circle cx="338" cy="526" r="19" fill="#70a49c"/><circle cx="354" cy="521" r="19" fill="#70a49c"/><circle cx="369" cy="535" r="20" fill="#70a49c"/><ellipse cx="545" cy="455" rx="44" ry="36" fill="#4f968c"/><circle cx="579" cy="455" r="20" fill="#4f968c"/><circle cx="571" cy="473" r="21" fill="#4f968c"/><circle cx="551" cy="482" r="22" fill="#4f968c"/><circle cx="528" cy="479" r="21" fill="#4f968c"/><circle cx="513" cy="464" r="18" fill="#4f968c"/><circle cx="513" cy="446" r="21" fill="#4f968c"/><circle cx="528" cy="431" r="20" fill="#4f968c"/><circle cx="551" cy="428" r="19" fill="#4f968c"/><circle cx="571" cy="437" r="20" fill="#4f968c"/><rect x="255" y="598" width="440" height="60" rx="22" fill="#3d897f" opacity="0.9"/><ellipse cx="660" cy="492" rx="38" ry="51" fill="#89bc98"/><circle cx="690" cy="492" r="25" fill="#89bc98"/><circle cx="683" cy="517" r="21" fill="#89bc98"/><circle cx="665" cy="531" r="22" fill="#89bc98"/><circle cx="645" cy="526" r="24" fill="#89bc98"/><circle cx="632" cy="506" r="24" fill="#89bc98"/><circle cx="632" cy="478" r="20" fill="#89bc98"/><circle cx="645" cy="458" r="22" fill="#89bc98"/><circle cx="665" cy="453" r="21" fill="#89bc98"/><circle cx="683" cy="467" r="22" fill="#89bc98"/><path d="M639.0,610 L640.0,575 L631.2,545 L636,545 L642,567 L648,545 L652.8,545 L644.0,575 L645.0,610 Z" fill="#7a5a48"/><path d="M146.0,655 L147.33333333333334,590 L135.6,560 L142,560 L150,582 L158,560 L164.4,560 L152.66666666666666,590 L154.0,655 Z" fill="#9a5f49"/><ellipse cx="148" cy="472" rx="53" ry="83" fill="#89bc98"/><circle cx="189" cy="472" r="29" fill="#89bc98"/><circle cx="179" cy="514" r="30" fill="#89bc98"/><circle cx="155" cy="536" r="29" fill="#89bc98"/><circle cx="128" cy="528" r="30" fill="#89bc98"/><circle cx="110" cy="494" r="33" fill="#89bc98"/><circle cx="110" cy="450" r="29" fill="#89bc98"/><circle cx="128" cy="416" r="33" fill="#89bc98"/><circle cx="155" cy="408" r="32" fill="#89bc98"/><circle cx="179" cy="430" r="28" fill="#89bc98"/><path d="M286.5,655 L287.6666666666667,610 L277.4,580 L283,580 L290,602 L297,580 L302.6,580 L292.3333333333333,610 L293.5,655 Z" fill="#9a5f49"/><ellipse cx="290" cy="508" rx="37" ry="68" fill="#89bc98"/><circle cx="319" cy="508" r="22" fill="#89bc98"/><circle cx="312" cy="542" r="21" fill="#89bc98"/><circle cx="295" cy="560" r="23" fill="#89bc98"/><circle cx="276" cy="554" r="22" fill="#89bc98"/><circle cx="263" cy="526" r="23" fill="#89bc98"/><circle cx="263" cy="490" r="20" fill="#89bc98"/><circle cx="276" cy="462" r="20" fill="#89bc98"/><circle cx="295" cy="456" r="22" fill="#89bc98"/><circle cx="312" cy="474" r="23" fill="#89bc98"/><path d="M401.0,655 L402.3333333333333,615 L390.6,585 L397,585 L405,607 L413,585 L419.4,585 L407.6666666666667,615 L409.0,655 Z" fill="#9a5f49"/><ellipse cx="400" cy="515" rx="42" ry="61" fill="#3f8b83"/><circle cx="432" cy="515" r="23" fill="#3f8b83"/><circle cx="425" cy="546" r="24" fill="#3f8b83"/><circle cx="406" cy="562" r="25" fill="#3f8b83"/><circle cx="384" cy="556" r="26" fill="#3f8b83"/><circle cx="370" cy="531" r="26" fill="#3f8b83"/><circle cx="370" cy="499" r="27" fill="#3f8b83"/><circle cx="384" cy="474" r="25" fill="#3f8b83"/><circle cx="406" cy="468" r="25" fill="#3f8b83"/><circle cx="425" cy="484" r="26" fill="#3f8b83"/><ellipse cx="355" cy="445" rx="22" ry="24" fill="#3f8b83"/><circle cx="372" cy="445" r="16" fill="#3f8b83"/><circle cx="368" cy="457" r="16" fill="#3f8b83"/><circle cx="358" cy="463" r="14" fill="#3f8b83"/><circle cx="346" cy="461" r="15" fill="#3f8b83"/><circle cx="339" cy="451" r="14" fill="#3f8b83"/><circle cx="339" cy="439" r="14" fill="#3f8b83"/><circle cx="346" cy="429" r="16" fill="#3f8b83"/><circle cx="358" cy="427" r="13" fill="#3f8b83"/><circle cx="368" cy="433" r="16" fill="#3f8b83"/><path d="M492.0,640 L493.0,620 L484.2,590 L489,590 L495,612 L501,590 L505.8,590 L497.0,620 L498.0,640 Z" fill="#9a5f49"/><ellipse cx="502" cy="532" rx="38" ry="56" fill="#89bc98"/><circle cx="532" cy="532" r="23" fill="#89bc98"/><circle cx="525" cy="560" r="21" fill="#89bc98"/><circle cx="507" cy="575" r="20" fill="#89bc98"/><circle cx="487" cy="570" r="25" fill="#89bc98"/><circle cx="474" cy="547" r="24" fill="#89bc98"/><circle cx="474" cy="517" r="25" fill="#89bc98"/><circle cx="487" cy="494" r="25" fill="#89bc98"/><circle cx="507" cy="489" r="23" fill="#89bc98"/><circle cx="525" cy="504" r="22" fill="#89bc98"/><path d="M762.0,655 L763.0,625 L754.2,595 L759,595 L765,617 L771,595 L775.8,595 L767.0,625 L768.0,655 Z" fill="#9a5f49"/><ellipse cx="750" cy="543" rx="24" ry="48" fill="#4f968c"/><circle cx="769" cy="543" r="15" fill="#4f968c"/><circle cx="764" cy="567" r="14" fill="#4f968c"/><circle cx="753" cy="579" r="14" fill="#4f968c"/><circle cx="741" cy="575" r="17" fill="#4f968c"/><circle cx="733" cy="556" r="16" fill="#4f968c"/><circle cx="733" cy="530" r="16" fill="#4f968c"/><circle cx="741" cy="511" r="16" fill="#4f968c"/><circle cx="753" cy="507" r="14" fill="#4f968c"/><circle cx="764" cy="519" r="14" fill="#4f968c"/><path d="M881.0,655 L882.3333333333334,610 L870.6,580 L877,580 L885,602 L893,580 L899.4,580 L887.6666666666666,610 L889.0,655 Z" fill="#9a5f49"/><ellipse cx="885" cy="524" rx="38" ry="51" fill="#4f968c"/><circle cx="915" cy="524" r="20" fill="#4f968c"/><circle cx="908" cy="549" r="23" fill="#4f968c"/><circle cx="890" cy="563" r="25" fill="#4f968c"/><circle cx="870" cy="558" r="25" fill="#4f968c"/><circle cx="857" cy="538" r="21" fill="#4f968c"/><circle cx="857" cy="510" r="22" fill="#4f968c"/><circle cx="870" cy="490" r="25" fill="#4f968c"/><circle cx="890" cy="485" r="21" fill="#4f968c"/><circle cx="908" cy="499" r="23" fill="#4f968c"/><path d="M1001.0,655 L1002.3333333333334,615 L990.6,585 L997,585 L1005,607 L1013,585 L1019.4,585 L1007.6666666666666,615 L1009.0,655 Z" fill="#9a5f49"/><ellipse cx="1004" cy="518" rx="38" ry="58" fill="#4f968c"/><circle cx="1034" cy="518" r="23" fill="#4f968c"/><circle cx="1027" cy="547" r="21" fill="#4f968c"/><circle cx="1009" cy="562" r="22" fill="#4f968c"/><circle cx="989" cy="557" r="25" fill="#4f968c"/><circle cx="976" cy="533" r="21" fill="#4f968c"/><circle cx="976" cy="503" r="23" fill="#4f968c"/><circle cx="989" cy="479" r="21" fill="#4f968c"/><circle cx="1009" cy="474" r="22" fill="#4f968c"/><circle cx="1027" cy="489" r="21" fill="#4f968c"/><ellipse cx="60" cy="585" rx="32" ry="36" fill="#4f968c"/><circle cx="85" cy="585" r="19" fill="#4f968c"/><circle cx="79" cy="603" r="21" fill="#4f968c"/><circle cx="64" cy="612" r="19" fill="#4f968c"/><circle cx="48" cy="609" r="21" fill="#4f968c"/><circle cx="37" cy="594" r="20" fill="#4f968c"/><circle cx="37" cy="576" r="22" fill="#4f968c"/><circle cx="48" cy="561" r="19" fill="#4f968c"/><circle cx="64" cy="558" r="20" fill="#4f968c"/><circle cx="79" cy="567" r="19" fill="#4f968c"/><ellipse cx="95" cy="625" rx="18" ry="17" fill="#4f968c"/><circle cx="109" cy="625" r="13" fill="#4f968c"/><circle cx="105" cy="633" r="13" fill="#4f968c"/><circle cx="97" cy="638" r="10" fill="#4f968c"/><circle cx="88" cy="636" r="10" fill="#4f968c"/><circle cx="82" cy="630" r="10" fill="#4f968c"/><circle cx="82" cy="620" r="11" fill="#4f968c"/><circle cx="88" cy="614" r="11" fill="#4f968c"/><circle cx="97" cy="612" r="10" fill="#4f968c"/><circle cx="105" cy="617" r="12" fill="#4f968c"/><ellipse cx="940" cy="618" rx="32" ry="31" fill="#5a9c91"/><circle cx="965" cy="618" r="17" fill="#5a9c91"/><circle cx="959" cy="633" r="17" fill="#5a9c91"/><circle cx="944" cy="641" r="19" fill="#5a9c91"/><circle cx="928" cy="639" r="18" fill="#5a9c91"/><circle cx="917" cy="626" r="17" fill="#5a9c91"/><circle cx="917" cy="610" r="17" fill="#5a9c91"/><circle cx="928" cy="597" r="19" fill="#5a9c91"/><circle cx="944" cy="595" r="16" fill="#5a9c91"/><circle cx="959" cy="603" r="18" fill="#5a9c91"/><ellipse cx="1045" cy="615" rx="32" ry="34" fill="#5a9c91"/><circle cx="1070" cy="615" r="21" fill="#5a9c91"/><circle cx="1064" cy="632" r="18" fill="#5a9c91"/><circle cx="1049" cy="641" r="17" fill="#5a9c91"/><circle cx="1033" cy="638" r="19" fill="#5a9c91"/><circle cx="1022" cy="624" r="18" fill="#5a9c91"/><circle cx="1022" cy="606" r="19" fill="#5a9c91"/><circle cx="1033" cy="592" r="17" fill="#5a9c91"/><circle cx="1049" cy="589" r="20" fill="#5a9c91"/><circle cx="1064" cy="598" r="21" fill="#5a9c91"/><ellipse cx="990" cy="630" rx="32" ry="22" fill="#5a9c91"/><circle cx="1015" cy="630" r="13" fill="#5a9c91"/><circle cx="1009" cy="641" r="13" fill="#5a9c91"/><circle cx="994" cy="647" r="11" fill="#5a9c91"/><circle cx="978" cy="645" r="15" fill="#5a9c91"/><circle cx="967" cy="636" r="11" fill="#5a9c91"/><circle cx="967" cy="624" r="12" fill="#5a9c91"/><circle cx="978" cy="615" r="12" fill="#5a9c91"/><circle cx="994" cy="613" r="14" fill="#5a9c91"/><circle cx="1009" cy="619" r="15" fill="#5a9c91"/><path d="M212,650 L218,560 L205,520 M218,575 L238,515 M216,600 L196,560" stroke="#9a5f49" stroke-width="6" fill="none"/><path d="M815,660 L820,585 L812,545 M820,600 L832,535" stroke="#b98572" stroke-width="6" fill="none"/><rect x="130" y="642" width="960" height="24" rx="10" fill="#8cc29a" opacity="0.8"/><path d="M95,665 C300,650 900,650 1155,680 C1150,700 900,706 600,700 C400,700 200,695 95,665 Z" fill="#b5846c"/><path d="M245,668 C400,656 800,656 1085,682 C1000,698 700,694 560,690 C420,690 300,684 245,668 Z" fill="#a9d3ee"/><path d="M620,663 L900,672 L1085,682 L800,678 Z" fill="#b5846c"/><path d="M190,690 L186,650 M196,690 L198,655 M202,690 L208,660" stroke="#6fb58a" stroke-width="3"/><path d="M230,690 L226,650 M236,690 L238,655 M242,690 L248,660" stroke="#6fb58a" stroke-width="3"/><path d="M320,690 L316,650 M326,690 L328,655 M332,690 L338,660" stroke="#6fb58a" stroke-width="3"/><path d="M365,690 L361,650 M371,690 L373,655 M377,690 L383,660" stroke="#6fb58a" stroke-width="3"/><path d="M410,690 L406,650 M416,690 L418,655 M422,690 L428,660" stroke="#6fb58a" stroke-width="3"/><path d="M470,690 L466,650 M476,690 L478,655 M482,690 L488,660" stroke="#6fb58a" stroke-width="3"/><path d="M560,690 L556,650 M566,690 L568,655 M572,690 L578,660" stroke="#6fb58a" stroke-width="3"/><path d="M680,690 L676,650 M686,690 L688,655 M692,690 L698,660" stroke="#6fb58a" stroke-width="3"/><path d="M730,690 L726,650 M736,690 L738,655 M742,690 L748,660" stroke="#6fb58a" stroke-width="3"/><path d="M800,690 L796,650 M806,690 L808,655 M812,690 L818,660" stroke="#6fb58a" stroke-width="3"/><path d="M850,690 L846,650 M856,690 L858,655 M862,690 L868,660" stroke="#6fb58a" stroke-width="3"/><path d="M1040,690 L1036,650 M1046,690 L1048,655 M1052,690 L1058,660" stroke="#6fb58a" stroke-width="3"/><path d="M1070,690 L1066,650 M1076,690 L1078,655 M1082,690 L1088,660" stroke="#6fb58a" stroke-width="3"/><path d="M1100,690 L1096,650 M1106,690 L1108,655 M1112,690 L1118,660" stroke="#6fb58a" stroke-width="3"/><rect x="341" y="635" width="7" height="62" fill="#9a5f49"/><path d="M330,600 L345,585 L360,600 L360,640 L330,640 Z" fill="#f4e400"/><path d="M338,606 L352,606 L352,625 Q345,634 338,625 Z" fill="#222"/><rect x="1094" y="598" width="6" height="62" fill="#9a5f49"/><polygon points="1070,560 1124,560 1097,602" fill="#3f9f4a"/><polygon points="1079,566 1115,566 1097,594" fill="#fff"/><path d="M1088,572 L1106,580" stroke="#222" stroke-width="4"/></g>
<g transform="translate(660,381) scale(0.40209)" ><rect x="190" y="352" width="372" height="7" fill="#6d9f99"/><rect x="190" y="358" width="372" height="10" fill="#fff"/><path d="M212,322 L218,358 M228,322 L218,345" stroke="#1f7aa8" stroke-width="4" fill="none"/><path d="M232,258 C245,270 244,300 236,318 C228,332 210,330 208,318 C206,300 220,275 232,258 Z" fill="#4f968c"/><rect x="350" y="155" width="142" height="65" fill="#efecd9"/><rect x="480" y="155" width="12" height="65" fill="#d9d5b7"/><rect x="380" y="172" width="62" height="24" fill="#7f97a9"/><rect x="358" y="172" width="14" height="44" fill="#7f97a9"/><rect x="315" y="218" width="215" height="84" fill="#efecd9"/><rect x="517" y="218" width="13" height="142" fill="#d9d5b7"/><rect x="353" y="235" width="85" height="31" fill="#7f97a9"/><rect x="323" y="235" width="12" height="46" fill="#7f97a9"/><rect x="497" y="232" width="15" height="34" fill="#7f97a9"/><rect x="332" y="300" width="188" height="60" fill="#efecd9"/><rect x="334" y="300" width="184" height="38" fill="#7f97a9"/><rect x="346" y="306" width="30" height="54" fill="#efecd9"/><rect x="350" y="312" width="22" height="48" fill="#7f97a9"/><rect x="345" y="306" width="32" height="6" fill="#d9d5b7"/><rect x="315" y="194" width="212" height="24" fill="#7fa3a6" opacity="0.6"/><rect x="315" y="192" width="212" height="4" fill="#c9d6de"/><rect x="315" y="194" width="3" height="24" fill="#c9d6de"/><rect x="360" y="194" width="3" height="24" fill="#c9d6de"/><rect x="405" y="194" width="3" height="24" fill="#c9d6de"/><rect x="450" y="194" width="3" height="24" fill="#c9d6de"/><rect x="495" y="194" width="3" height="24" fill="#c9d6de"/><rect x="524" y="194" width="3" height="24" fill="#c9d6de"/></g>
<g transform="translate(600,422) scale(0.50000)" ><g transform="translate(0,7)"><path d="M272,560 L272,487 Q272,474 280.0,474 L279.0,462 Q287.0,450 295.0,462 L294.0,474 Q302,474 302,487 L302,560 Z" fill="#7aa8a5"/><path d="M352,560 L352,480 Q352,467 358.0,467 L357.0,455 Q365.0,443 373.0,455 L372.0,467 Q378,467 378,480 L378,560 Z" fill="#7aa8a5"/><path d="M400,560 L400,475 Q400,462 408.0,462 L407.0,450 Q415.0,438 423.0,450 L422.0,462 Q430,462 430,475 L430,560 Z" fill="#7aa8a5"/><path d="M448,560 L448,480 Q448,467 454.0,467 L453.0,455 Q461.0,443 469.0,455 L468.0,467 Q474,467 474,480 L474,560 Z" fill="#7aa8a5"/><path d="M500,560 L500,477 Q500,464 507.0,464 L506.0,452 Q514.0,440 522.0,452 L521.0,464 Q528,464 528,477 L528,560 Z" fill="#7aa8a5"/></g><polygon points="320,375 462,372 458,418 322,421" fill="#6d8898"/><rect x="329" y="420" width="3" height="50" fill="#6d8898"/><rect x="440" y="418" width="3" height="50" fill="#6d8898"/><rect x="480" y="393" width="47" height="38" fill="#6d8898"/><rect x="502" y="430" width="3.5" height="130" fill="#6d8898"/><g transform="translate(0,7)"><path d="M291,512 L313,512 L314,552 L292,552 Z" fill="#3a2c2c"/><ellipse cx="296" cy="558" rx="8" ry="3.2" fill="#5a3a2a"/><ellipse cx="309" cy="558" rx="8" ry="3.2" fill="#5a3a2a"/><path d="M288,480 Q288,470 296,469 L308,469 Q316,470 316,480 L314,518 L290,518 Z" fill="#4f86a6"/><rect x="298.5" y="460" width="7" height="11" fill="#8a5a40"/><ellipse cx="303.0" cy="456" rx="7.5" ry="9" fill="#8a5a40"/><path d="M294.0,456 C292.0,442 310.0,440 311.0,450 C304.0,448 299.0,452 298.0,460 Z" fill="#1a1a22"/><circle cx="300" cy="452" r="11" fill="#1a1a22"/><ellipse cx="304" cy="457" rx="6" ry="7.5" fill="#8a5a40"/><polygon points="272,480 318,472 320,494 276,502" fill="#7f97a9"/><path d="M314,508 L336,508 L336,556 L327.0,556 L325.0,526 L323.0,556 L314,556 Z" fill="#5c6572"/><ellipse cx="319" cy="558" rx="8" ry="3.2" fill="#5a3a2a"/><ellipse cx="332" cy="558" rx="8" ry="3.2" fill="#5a3a2a"/><path d="M311,476 Q311,466 319,465 L331,465 Q339,466 339,476 L337,514 L313,514 Z" fill="#4f80a0"/><rect x="321.5" y="456" width="7" height="11" fill="#f0c3a2"/><ellipse cx="326.0" cy="452" rx="7.5" ry="9" fill="#f0c3a2"/><path d="M317.0,452 C315.0,438 333.0,436 334.0,446 C327.0,444 322.0,448 321.0,456 Z" fill="#2a2440"/><path d="M343,518 L362,518 L362,556 L354.5,556 L352.5,536 L350.5,556 L343,556 Z" fill="#6a2a56"/><ellipse cx="348" cy="558" rx="8" ry="3.2" fill="#5a3a2a"/><ellipse cx="358" cy="558" rx="8" ry="3.2" fill="#5a3a2a"/><path d="M340,486 Q340,476 348,475 L357,475 Q365,476 365,486 L363,524 L342,524 Z" fill="#2f56b6"/><rect x="349.0" y="466" width="7" height="11" fill="#f0c3a2"/><ellipse cx="353.5" cy="462" rx="7.5" ry="9" fill="#f0c3a2"/><path d="M344.5,462 C342.5,448 360.5,446 361.5,456 C354.5,454 349.5,458 348.5,466 Z" fill="#6a3a2a"/><path d="M379,512 L398,512 L398,556 L390.5,556 L388.5,530 L386.5,556 L379,556 Z" fill="#c9801a"/><ellipse cx="384" cy="558" rx="8" ry="3.2" fill="#5a3a2a"/><ellipse cx="394" cy="558" rx="8" ry="3.2" fill="#5a3a2a"/><path d="M376,480 Q376,470 384,469 L393,469 Q401,470 401,480 L399,518 L378,518 Z" fill="#dc961f"/><rect x="385.0" y="460" width="7" height="11" fill="#f0c3a2"/><ellipse cx="389.5" cy="456" rx="7.5" ry="9" fill="#f0c3a2"/><path d="M380.5,456 C378.5,442 396.5,440 397.5,450 C390.5,448 385.5,452 384.5,460 Z" fill="#a9563b"/><polygon points="356,476 378,472 380,486 358,490" fill="#a8c0d0"/><path d="M421,502 L443,502 L443,556 L434.0,556 L432.0,520 L430.0,556 L421,556 Z" fill="#1b1b2b"/><ellipse cx="426" cy="558" rx="8" ry="3.2" fill="#5a3a2a"/><ellipse cx="439" cy="558" rx="8" ry="3.2" fill="#5a3a2a"/><path d="M418,470 Q418,460 426,459 L438,459 Q446,460 446,470 L444,508 L420,508 Z" fill="#a8502f"/><rect x="428.5" y="450" width="7" height="11" fill="#f0c3a2"/><ellipse cx="433.0" cy="446" rx="7.5" ry="9" fill="#f0c3a2"/><path d="M424.0,446 C422.0,432 440.0,430 441.0,440 C434.0,438 429.0,442 428.0,450 Z" fill="#2a2440"/><rect x="429" y="460" width="6" height="42" fill="#fff"/><path d="M440,470 L452,440 L458,442 L448,478 Z" fill="#a8502f"/><path d="M471,502 L493,502 L493,556 L484.0,556 L482.0,520 L480.0,556 L471,556 Z" fill="#2a3f66"/><ellipse cx="476" cy="558" rx="8" ry="3.2" fill="#5a3a2a"/><ellipse cx="489" cy="558" rx="8" ry="3.2" fill="#5a3a2a"/><path d="M468,470 Q468,460 476,459 L488,459 Q496,460 496,470 L494,508 L470,508 Z" fill="#ffffff"/><rect x="478.5" y="450" width="7" height="11" fill="#f0c3a2"/><ellipse cx="483.0" cy="446" rx="7.5" ry="9" fill="#f0c3a2"/><path d="M474.0,446 C472.0,432 490.0,430 491.0,440 C484.0,438 479.0,442 478.0,450 Z" fill="#2a2440"/><path d="M466,478 L448,468 L450,462 L470,468 Z" fill="#fff"/></g></g>
<g transform="translate(900,560) scale(0.25000)" ><rect x="490" y="310" width="320" height="30" rx="4" fill="#f1511f"/><path d="M435,330 L815,330 L815,336 L850,340 Q866,344 876,358 L930,424 L994,452 Q1013,460 1015,482 L1015,520 L435,520 Z" fill="#f1511f"/><rect x="435" y="332" width="380" height="18" fill="#f8c61f"/><path d="M435,440 L945,440 L1000,462 L1010,474 L940,453 L435,453 Z" fill="#f8c61f"/><rect x="690" y="506" width="325" height="9" fill="#f8c61f"/><rect x="470" y="506" width="110" height="9" fill="#f8c61f"/><rect x="445" y="355" width="38" height="54" rx="4" fill="#2b3a4a"/><rect x="715" y="355" width="62" height="46" rx="4" fill="#2b3a4a"/><path d="M834,374 L868,374 L926,438 L834,438 Z" fill="#2f4a5b"/><rect x="498" y="335" width="56" height="172" fill="none" stroke="#7b7b7b" stroke-width="4"/><rect x="695" y="335" width="98" height="176" fill="none" stroke="#7b7b7b" stroke-width="4"/><rect x="812" y="335" width="4" height="185" fill="#5a4a40"/><rect x="555" y="427" width="145" height="6" fill="#3a3a44"/><rect x="822" y="321" width="17" height="14" rx="3" fill="#1f90d8"/><rect x="984" y="456" width="26" height="24" rx="6" fill="#a3abb3"/><path d="M584,522 A41,41 0 0 1 666,522 Z" fill="#1d222c"/><circle cx="625" cy="526" r="33" fill="#34434e"/><circle cx="625" cy="526" r="18" fill="#65747e"/><circle cx="625" cy="526" r="10" fill="#34434e"/><path d="M899,522 A41,41 0 0 1 981,522 Z" fill="#1d222c"/><circle cx="940" cy="526" r="33" fill="#34434e"/><circle cx="940" cy="526" r="18" fill="#65747e"/><circle cx="940" cy="526" r="10" fill="#34434e"/><rect x="435" y="512" width="150" height="10" fill="#5a4a40"/><path d="M232,398 L385,428 L382,442 L228,412 Z" fill="#fff"/><path d="M234,388 L386,418 L384,430 L231,400 Z" fill="#f1511f"/><path d="M226,402 L250,372 L262,378 L238,408 Z" fill="#f1511f"/><path d="M302,440 L318,545 M385,440 L300,545 M310,440 L390,545" stroke="#fff" stroke-width="7" fill="none"/><rect x="200" y="444" width="196" height="9" fill="#fff"/><circle cx="297" cy="552" r="8" fill="#9ba6ae"/><circle cx="388" cy="552" r="8" fill="#9ba6ae"/><path d="M268,398 Q320,380 380,412 L378,424 L270,404 Z" fill="#8b8479"/><circle cx="262" cy="386" r="11" fill="#e9b592"/><path d="M250,384 C250,370 272,370 274,382 C265,380 258,382 252,392 Z" fill="#8a3f2a"/><path d="M170,470 L152,550 L175,556 L200,490 L210,556 L232,556 L225,470 Z" fill="#1b1b25"/><ellipse cx="165" cy="558" rx="16" ry="5" fill="#1b1b25"/><ellipse cx="222" cy="560" rx="16" ry="5" fill="#1b1b25"/><path d="M165,395 Q195,378 220,392 L226,474 L160,474 Z" fill="#f1511f"/><rect x="160" y="425" width="22" height="10" fill="#2a2030"/><path d="M165,440 L228,446 L228,458 L165,455 Z" fill="#f1511f"/><rect x="222" y="444" width="14" height="12" fill="#f0c3a2"/><rect x="198" y="375" width="12" height="16" fill="#e9b592"/><ellipse cx="205" cy="365" rx="12" ry="14" fill="#f0c3a2"/><path d="M190,362 C190,345 215,342 222,356 C210,355 203,358 200,370 C194,370 190,368 190,362 Z" fill="#3a2458"/><rect x="398" y="468" width="16" height="88" fill="#1b1b25"/><rect x="416" y="468" width="16" height="88" fill="#1b1b25"/><ellipse cx="412" cy="558" rx="22" ry="5" fill="#1b1b25"/><path d="M390,402 Q412,388 436,400 L436,474 L392,474 Z" fill="#f1511f"/><path d="M392,410 L360,425 L362,436 L396,428 Z" fill="#f1511f"/><rect x="405" y="382" width="12" height="14" fill="#e9b592"/><ellipse cx="412" cy="372" rx="12" ry="14" fill="#f0c3a2"/><path d="M398,372 C396,352 424,350 428,366 C420,362 410,366 408,380 C402,380 398,378 398,372 Z" fill="#8a3a2a"/></g>
<defs><linearGradient id="bandg" gradientUnits="userSpaceOnUse" x1="0" y1="706" x2="0" y2="430"><stop offset="0" stop-color="#dbe1ef"/><stop offset="0.4" stop-color="#d3dbeb"/><stop offset="0.85" stop-color="#c7d3e7"/></linearGradient><clipPath id="aboveground"><rect x="0" y="0" width="1200" height="706"/></clipPath></defs>
<g clip-path="url(#aboveground)">
<path d="M688.0,706.0 L688.1,705.0 L688.2,704.2 L688.3,703.4 L688.4,702.7 L688.5,702.0 L688.5,701.4 L688.6,700.8 L688.7,700.2 L688.8,699.6 L688.9,699.1 L689.0,698.5 L689.1,697.8 L689.2,697.1 L689.3,696.4 L689.4,695.6 L689.5,694.7 L689.6,693.7 L689.7,692.6 L689.9,691.4 L690.0,690.0 L690.2,688.5 L690.3,686.9 L690.5,685.2 L690.7,683.4 L690.8,681.5 L691.0,679.5 L691.2,677.4 L691.4,675.3 L691.6,673.1 L691.8,670.9 L692.0,668.7 L692.2,666.5 L692.4,664.2 L692.7,661.9 L692.9,659.7 L693.1,657.5 L693.3,655.3 L693.6,653.1 L693.8,651.0 L694.0,649.0 L694.2,647.0 L694.5,645.0 L694.7,643.0 L694.9,641.1 L695.1,639.1 L695.4,637.2 L695.6,635.2 L695.8,633.3 L696.1,631.3 L696.3,629.4 L696.6,627.4 L696.8,625.5 L697.1,623.6 L697.3,621.6 L697.6,619.7 L697.9,617.8 L698.1,615.8 L698.4,613.9 L698.7,611.9 L699.0,610.0 L699.3,608.0 L699.6,606.1 L699.9,604.1 L700.2,602.2 L700.5,600.2 L700.8,598.2 L701.1,596.3 L701.5,594.3 L701.8,592.3 L702.1,590.4 L702.5,588.4 L702.8,586.5 L703.2,584.5 L703.5,582.6 L703.9,580.6 L704.3,578.7 L704.7,576.7 L705.1,574.8 L705.6,572.9 L706.0,571.0 L706.5,569.1 L706.9,567.2 L707.4,565.3 L707.9,563.4 L708.4,561.5 L709.0,559.7 L709.5,557.8 L710.1,555.9 L710.6,554.0 L711.2,552.2 L711.8,550.3 L712.3,548.5 L712.9,546.6 L713.5,544.8 L714.1,543.0 L714.7,541.2 L715.3,539.4 L715.8,537.6 L716.4,535.8 L717.0,534.0 L717.6,532.2 L718.1,530.5 L718.7,528.7 L719.3,527.0 L719.9,525.3 L720.4,523.6 L721.0,521.9 L721.6,520.2 L722.2,518.5 L722.8,516.8 L723.4,515.1 L724.0,513.5 L724.6,511.8 L725.2,510.1 L725.8,508.4 L726.4,506.8 L727.1,505.1 L727.7,503.4 L728.3,501.7 L729.0,500.0 L729.7,498.3 L730.4,496.6 L731.0,494.9 L731.7,493.1 L732.5,491.4 L733.2,489.7 L733.9,487.9 L734.6,486.2 L735.4,484.5 L736.1,482.8 L736.9,481.0 L737.6,479.3 L738.3,477.6 L739.1,475.9 L739.8,474.2 L740.6,472.5 L741.3,470.9 L742.1,469.2 L742.8,467.6 L743.5,466.0 L744.2,464.4 L744.9,462.9 L745.6,461.3 L746.3,459.8 L747.0,458.3 L747.7,456.8 L748.4,455.3 L749.1,453.9 L749.7,452.4 L750.4,450.9 L751.1,449.5 L751.8,448.0 L752.5,446.6 L753.2,445.1 L753.9,443.6 L754.7,442.1 L755.4,440.6 L756.2,439.1 L756.9,437.6 L757.7,436.0 L758.5,434.4 L759.3,432.8 L760.1,431.2 L761.0,429.5 L761.8,427.8 L762.7,426.1 L763.5,424.4 L764.4,422.7 L765.3,421.0 L766.2,419.3 L767.0,417.6 L767.9,415.9 L768.8,414.2 L769.7,412.5 L770.6,410.9 L771.5,409.2 L772.4,407.6 L773.3,406.1 L774.1,404.5 L775.0,403.0 L775.9,401.5 L776.7,400.1 L777.6,398.7 L778.4,397.3 L779.3,395.9 L780.1,394.6 L781.0,393.3 L781.8,392.0 L782.7,390.7 L783.5,389.4 L784.4,388.1 L785.2,386.8 L786.1,385.6 L787.0,384.3 L787.8,383.0 L788.7,381.7 L789.6,380.4 L790.5,379.1 L791.4,377.8 L792.3,376.4 L793.2,375.0 L794.1,373.7 L795.1,372.3 L796.0,370.9 L797.0,369.5 L797.9,368.1 L798.9,366.7 L799.8,365.3 L800.8,363.9 L801.8,362.5 L802.7,361.1 L803.7,359.7 L804.7,358.3 L805.7,356.9 L806.7,355.5 L807.6,354.1 L808.6,352.7 L809.6,351.3 L810.6,349.9 L811.6,348.5 L812.6,347.1 L813.6,345.7 L814.6,344.3 L815.6,342.9 L816.6,341.4 L817.6,340.0 L818.6,338.6 L819.6,337.2 L820.6,335.8 L821.6,334.4 L822.6,332.9 L823.6,331.5 L824.7,330.1 L825.7,328.7 L826.7,327.3 L827.7,325.9 L828.8,324.6 L829.8,323.2 L830.9,321.8 L831.9,320.5 L833.0,319.2 L834.0,317.9 L835.1,316.5 L836.1,315.3 L837.2,314.0 L838.3,312.7 L839.4,311.4 L840.5,310.2 L841.5,308.9 L842.6,307.6 L843.7,306.4 L844.8,305.1 L845.9,303.9 L847.0,302.6 L848.1,301.4 L849.2,300.1 L850.3,298.8 L851.4,297.6 L852.5,296.3 L853.6,295.0 L854.7,293.7 L855.8,292.4 L856.9,291.1 L858.0,289.8 L859.1,288.5 L860.2,287.1 L861.3,285.8 L862.4,284.5 L863.5,283.1 L864.6,281.8 L865.7,280.5 L866.8,279.2 L868.0,277.8 L869.1,276.5 L870.2,275.2 L871.3,273.9 L872.4,272.6 L873.5,271.3 L874.7,270.1 L875.8,268.8 L876.9,267.5 L878.1,266.3 L879.2,265.0 L880.3,263.8 L881.4,262.6 L882.6,261.3 L883.7,260.1 L884.8,258.9 L886.0,257.6 L887.1,256.4 L888.3,255.2 L889.4,254.0 L890.6,252.8 L891.7,251.6 L892.9,250.5 L894.0,249.3 L895.2,248.1 L896.4,247.0 L897.5,245.8 L898.7,244.7 L899.9,243.6 L901.1,242.5 L902.3,241.4 L903.5,240.3 L904.7,239.2 L905.9,238.2 L907.1,237.1 L908.4,236.1 L909.6,235.1 L910.8,234.0 L912.0,233.0 L913.3,232.0 L914.5,230.9 L915.7,229.9 L917.0,228.9 L918.2,227.9 L919.4,226.8 L920.6,225.8 L921.8,224.8 L923.0,223.7 L924.2,222.7 L925.3,221.6 L926.4,220.6 L927.5,219.7 L928.5,218.7 L929.6,217.7 L930.6,216.8 L931.6,215.8 L932.7,214.8 L933.7,213.9 L934.8,212.9 L935.9,211.8 L937.0,210.8 L938.2,209.7 L939.4,208.6 L940.7,207.5 L942.0,206.3 L943.4,205.0 L944.9,203.7 L946.4,202.4 L948.0,201.0 L949.7,199.5 L951.4,198.0 L953.2,196.4 L955.0,194.7 L956.9,193.0 L958.9,191.3 L960.8,189.5 L962.8,187.7 L964.9,186.0 L966.9,184.1 L969.0,182.3 L971.1,180.5 L973.2,178.7 L975.4,176.9 L977.5,175.2 L979.6,173.5 L981.8,171.8 L983.9,170.1 L986.0,168.5 L988.1,166.9 L990.3,165.3 L992.6,163.7 L994.9,162.1 L997.3,160.6 L999.6,159.0 L1002.0,157.4 L1004.4,155.9 L1006.8,154.3 L1009.2,152.8 L1011.6,151.3 L1013.9,149.8 L1016.2,148.4 L1018.5,146.9 L1020.7,145.6 L1022.9,144.2 L1025.0,142.9 L1027.0,141.6 L1029.0,140.4 L1030.8,139.2 L1032.5,138.1 L1034.1,137.1 L1035.5,136.1 L1036.8,135.3 L1038.0,134.4 L1039.2,133.7 L1040.3,132.9 L1041.3,132.2 L1042.4,131.6 L1043.4,130.9 L1044.4,130.2 L1045.5,129.5 L1046.7,128.8 L1047.9,128.0 L1049.2,127.2 L1050.6,126.4 L1052.2,125.5 L1053.9,124.5 L1055.7,123.4 L1057.8,122.2 L1060.0,120.9 L1062.4,119.6 L1064.9,118.2 L1067.5,116.7 L1070.2,115.2 L1073.0,113.6 L1075.9,112.0 L1078.9,110.4 L1081.9,108.7 L1085.0,107.0 L1088.2,105.3 L1091.3,103.5 L1094.5,101.8 L1097.8,100.1 L1101.0,98.3 L1104.3,96.6 L1107.5,94.9 L1110.7,93.2 L1113.9,91.6 L1117.0,90.0 L1120.2,88.4 L1123.5,86.7 L1126.9,85.1 L1130.4,83.3 L1134.0,81.6 L1137.6,79.9 L1141.3,78.1 L1145.0,76.4 L1148.6,74.6 L1152.2,72.9 L1155.8,71.3 L1159.3,69.6 L1162.7,68.0 L1166.0,66.5 L1169.2,65.0 L1172.2,63.6 L1175.0,62.3 L1177.7,61.0 L1180.1,59.9 L1182.3,58.8 L1184.2,57.9 L1185.9,57.0 L1187.4,56.3 L1188.7,55.7 L1189.8,55.1 L1190.7,54.7 L1191.5,54.3 L1192.2,53.9 L1192.8,53.6 L1193.4,53.3 L1193.8,53.1 L1194.3,52.8 L1194.8,52.6 L1195.3,52.3 L1195.8,52.0 L1196.4,51.7 L1197.1,51.4 L1197.9,51.0 L1198.9,50.5 L1200.0,50.0" fill="none" stroke="url(#bandg)" stroke-width="29.0"/>
<polygon fill="#c20e12" points="676.0,693.6 678.5,674.9 704.6,699.2 702.1,717.9"/>
<polygon fill="#c20e12" points="678.5,650.2 680.5,631.0 707.1,655.8 705.1,675.0"/>
<polygon fill="#c20e12" points="684.5,609.0 687.2,590.5 712.9,614.5 710.2,633.0"/>
<polygon fill="#c20e12" points="692.3,569.2 696.3,552.0 720.7,574.8 716.7,592.0"/>
<polygon fill="#c20e12" points="702.7,531.1 708.0,514.8 731.3,536.9 726.0,553.2"/>
<polygon fill="#c20e12" points="714.7,496.9 720.7,481.3 743.3,503.1 737.3,518.7"/>
<polygon fill="#c20e12" points="729.1,462.7 735.8,447.7 757.9,469.3 751.2,484.3"/>
<polygon fill="#c20e12" points="743.3,432.5 750.5,417.9 772.1,439.5 764.9,454.1"/>
<polygon fill="#c20e12" points="760.4,399.3 768.4,385.5 789.6,406.7 781.6,420.5"/>
<polygon fill="#c20e12" points="777.6,372.3 786.4,359.2 807.0,380.5 798.2,393.6"/>
<polygon fill="#c20e12" points="796.8,344.3 805.9,331.5 826.4,352.7 817.3,365.5"/>
<polygon fill="#c20e12" points="816.9,316.1 826.5,303.9 846.9,324.9 837.3,337.1"/>
<polygon fill="#c20e12" points="838.5,290.4 848.5,278.6 868.7,299.6 858.7,311.4"/>
<polygon fill="#c20e12" points="860.6,264.1 870.8,252.6 891.0,273.5 880.8,285.0"/>
<polygon fill="#c20e12" points="882.9,239.7 894.0,229.1 914.5,249.7 903.4,260.3"/>
<polygon fill="#c20e12" points="906.7,218.7 918.3,208.5 939.3,228.7 927.7,238.9"/>
<polygon fill="#c20e12" points="1039.7,115.9 1053.7,107.8 1075.9,128.5 1061.9,136.6"/>
<polygon fill="#c20e12" points="1164.1,51.5 1178.8,44.4 1200.5,66.1 1185.8,73.2"/>
<polygon fill="#c20e12" points="1194.8,36.7 1209.5,29.6 1231.2,51.3 1216.5,58.4"/>
</g>
<circle cx="986.1" cy="167.6" r="44.5" fill="#c7d3e7"/>
<rect x="45" y="-14.5" width="15.5" height="29" fill="#c20e12" transform="translate(986.1,167.6) rotate(138.8)"/>
<rect x="45" y="-14.5" width="15.5" height="29" fill="#c20e12" transform="translate(986.1,167.6) rotate(-32.4)"/>
<g transform="translate(900,90) scale(0.18929)" ><g fill="#1d5f9d">
<rect x="275" y="383" width="365" height="26" rx="4"/>
<rect x="274" y="340" width="42" height="62" rx="4"/><rect x="284" y="296" width="22" height="48" rx="6"/>
<rect x="590" y="340" width="42" height="62" rx="4"/><rect x="597" y="296" width="22" height="48" rx="6"/>
<path d="M262,297 L420,304 L295,310 Z"/><path d="M478,306 L642,298 L610,312 Z"/>
<path d="M385,392 C385,350 415,328 452,328 C490,328 522,350 522,385 Z"/>
<path d="M410,405 L345,462 L340,532 L356,532 L360,472 L425,420 Z"/>
<path d="M492,405 L556,455 L558,500 L543,500 L542,466 L480,420 Z"/>
<rect x="425" y="405" width="44" height="40"/>
<circle cx="445" cy="522" r="41"/>
<path d="M392,535 C380,470 430,445 470,455 C505,462 520,490 510,515" fill="none" stroke="#1d5f9d" stroke-width="9"/>
<rect x="384" y="510" width="15" height="30" rx="4"/><rect x="500" y="495" width="15" height="30" rx="4"/>
</g></g>
<line x1="955.1" y1="136.6" x2="1017.1" y2="198.6" stroke="#c20e12" stroke-width="7.6"/>
<circle cx="986.1" cy="167.6" r="44.5" fill="none" stroke="#c20e12" stroke-width="7.6"/>
<g transform="translate(1117,90) rotate(-27)"><rect x="-45.5" y="-15.2" width="17" height="4.4" fill="#c20e12"/><rect x="-10.5" y="-15.2" width="17" height="4.4" fill="#c20e12"/><rect x="25.0" y="-15.2" width="17" height="4.4" fill="#c20e12"/><rect x="-37.5" y="9.8" width="17" height="4.4" fill="#c20e12"/><rect x="-2.5" y="9.8" width="17" height="4.4" fill="#c20e12"/><rect x="32.5" y="9.8" width="17" height="4.4" fill="#c20e12"/><text x="2" y="5.6" font-size="15.5" font-weight="bold" fill="#c20e12" text-anchor="middle" textLength="97" lengthAdjust="spacingAndGlyphs" stroke="#c20e12" stroke-width="0.4">FLUGVERBOT</text></g>
<g transform="translate(237.3,168.65) rotate(-12.3)"><rect x="-62.8" y="-19.85" width="125.6" height="39.7" fill="none" stroke="#c20e12" stroke-width="2.9"/><text x="0" y="-1.6" font-size="15.3" font-weight="bold" fill="#c20e12" text-anchor="middle" textLength="115.7" lengthAdjust="spacingAndGlyphs" stroke="#c20e12" stroke-width="0.45">GRUNDSÄTZLICH</text><text x="1.5" y="16.1" font-size="15.3" font-weight="bold" fill="#c20e12" text-anchor="middle" textLength="72" lengthAdjust="spacingAndGlyphs" stroke="#c20e12" stroke-width="0.45">VERBOTEN</text></g><circle cx="180.3" cy="202.2" r="6.2" fill="#c20e12" stroke="#fff" stroke-width="1.2"/><text x="180.3" y="205.6" font-size="9.5" font-weight="bold" fill="#fff" text-anchor="middle">4</text>
<g transform="translate(110.1,374.4) rotate(-12.5)"><rect x="-72.2" y="-19.7" width="144.4" height="39.4" fill="none" stroke="#c20e12" stroke-width="2.9"/><text x="0" y="-1.6" font-size="15.3" font-weight="bold" fill="#c20e12" text-anchor="middle" textLength="130" lengthAdjust="spacingAndGlyphs" stroke="#c20e12" stroke-width="0.45">KENNZEICHNUNGS-</text><text x="0" y="16.1" font-size="15.3" font-weight="bold" fill="#c20e12" text-anchor="middle" textLength="55" lengthAdjust="spacingAndGlyphs" stroke="#c20e12" stroke-width="0.45">PFLICHT</text></g><circle cx="45" cy="410.6" r="6.2" fill="#c20e12" stroke="#fff" stroke-width="1.2"/><text x="45" y="414.0" font-size="9.5" font-weight="bold" fill="#fff" text-anchor="middle">1</text>
<g transform="translate(322.3,368.15) rotate(-14.4)"><rect x="-44.8" y="-18.4" width="89.6" height="36.8" fill="none" stroke="#c20e12" stroke-width="2.9"/><text x="0" y="-1.6" font-size="15.3" font-weight="bold" fill="#c20e12" text-anchor="middle" textLength="74" lengthAdjust="spacingAndGlyphs" stroke="#c20e12" stroke-width="0.45">KENNTNIS-</text><text x="0" y="16.1" font-size="15.3" font-weight="bold" fill="#c20e12" text-anchor="middle" textLength="72.5" lengthAdjust="spacingAndGlyphs" stroke="#c20e12" stroke-width="0.45">NACHWEIS</text></g><circle cx="281.8" cy="396.5" r="6.2" fill="#c20e12" stroke="#fff" stroke-width="1.2"/><text x="281.8" y="399.9" font-size="9.5" font-weight="bold" fill="#fff" text-anchor="middle">2</text>
<g transform="translate(504.75,354.4) rotate(-11.9)"><rect x="-51.2" y="-20.05" width="102.4" height="40.1" fill="none" stroke="#c20e12" stroke-width="2.9"/><text x="-0.7" y="-1.6" font-size="15.3" font-weight="bold" fill="#c20e12" text-anchor="middle" textLength="81.5" lengthAdjust="spacingAndGlyphs" stroke="#c20e12" stroke-width="0.45">ERLAUBNIS-</text><text x="-1" y="16.1" font-size="15.3" font-weight="bold" fill="#c20e12" text-anchor="middle" textLength="54.5" lengthAdjust="spacingAndGlyphs" stroke="#c20e12" stroke-width="0.45">PFLICHT</text></g><circle cx="460" cy="384.8" r="6.2" fill="#c20e12" stroke="#fff" stroke-width="1.2"/><text x="460" y="388.2" font-size="9.5" font-weight="bold" fill="#fff" text-anchor="middle">3</text>
<line x1="34.7" y1="219.6" x2="505" y2="219.6" stroke="#d43a3f" stroke-width="1.4" stroke-dasharray="10.1,10.8"/>
<path d="M615.4,266.9 L616.0,264.7 L616.9,261.9 L617.8,258.5 L618.9,254.8 L620.1,250.8 L621.3,246.5 L622.6,242.2 L623.8,238.0 L624.9,233.9 L626.0,230.0 L627.0,226.3 L628.1,222.5 L629.2,218.7 L630.3,214.9 L631.4,211.1 L632.4,207.4 L633.3,203.6 L634.1,200.0 L634.8,196.4 L635.4,193.0 L635.8,189.7 L636.1,186.5 L636.3,183.3 L636.4,180.3 L636.4,177.3 L636.3,174.3 L636.2,171.3 L636.0,168.3 L635.7,165.3 L635.4,162.3 L635.0,159.2 L634.6,156.1 L634.1,153.0 L633.6,149.8 L632.9,146.7 L632.3,143.6 L631.5,140.5 L630.7,137.5 L629.9,134.5 L629.0,131.5 L628.1,128.6 L627.2,125.6 L626.2,122.7 L625.2,119.8 L624.1,116.9 L623.0,114.1 L621.7,111.3 L620.3,108.7 L618.7,106.2 L617.0,103.8 L615.0,101.4 L612.8,99.0 L610.4,96.6 L607.9,94.3 L605.2,92.1 L602.6,90.1 L599.9,88.4 L597.2,87.0 L594.7,86.0 L592.3,85.4 L590.0,85.3 L587.7,85.6 L585.4,86.3 L583.1,87.4 L580.9,88.7 L578.7,90.2 L576.6,91.9 L574.6,93.8 L572.6,95.7 L570.8,97.7 L569.1,99.8 L567.5,102.1 L565.9,104.6 L564.4,107.2 L563.0,110.0 L561.7,112.9 L560.5,115.9 L559.3,119.0 L558.1,122.2 L557.0,125.4 L555.9,128.7 L554.9,132.2 L553.9,135.8 L553.0,139.5 L552.1,143.3 L551.4,147.1 L550.7,150.9 L550.1,154.8 L549.6,158.6 L549.2,162.3 L549.0,166.0 L548.9,169.9 L548.9,173.8 L549.0,177.7 L549.2,181.5 L549.5,185.3 L549.8,189.0 L550.1,192.6 L550.5,196.0 L550.8,199.2 L551.1,202.2 L551.5,205.0 L551.8,207.7 L552.2,210.2 L552.6,212.6 L553.1,215.0 L553.6,217.3 L554.1,219.5 L554.7,221.6 L555.4,223.8 L556.1,225.9 L556.9,227.8 L557.8,229.6 L558.7,231.3 L559.7,233.0 L560.7,234.7 L561.7,236.5 L562.7,238.3 L563.7,240.2 L564.6,242.3 L565.5,244.5 L566.4,246.8 L567.2,249.1 L568.1,251.5 L568.9,253.9 L569.8,256.4 L570.7,259.0 L571.7,261.6 L572.7,264.3 L573.8,267.0 L575.0,269.8 L576.3,272.5 L577.6,275.3 L579.0,278.2 L580.4,281.1 L581.9,284.2 L583.3,287.3 L584.8,290.5 L586.2,293.9 L587.5,297.5 L588.8,301.4 L590.2,305.6 L591.5,310.1 L592.8,314.7 L594.1,319.4 L595.4,324.0 L596.7,328.5 L597.8,332.7 L599.0,336.6 L600.0,340.0 L601.0,342.9 L601.9,345.3 L602.7,347.3 L603.5,349.1 L604.2,350.8 L604.9,352.4 L605.6,354.0 L606.2,355.7 L606.9,357.7 L607.5,360.0 L608.1,362.6 L608.6,365.3 L609.1,368.2 L609.6,371.2 L610.0,374.2 L610.4,377.3 L610.9,380.5 L611.4,383.7 L611.9,386.9 L612.5,390.0 L613.1,393.1 L613.8,396.3 L614.5,399.4 L615.2,402.6 L615.9,405.8 L616.7,409.0 L617.5,412.3 L618.3,415.6 L619.1,419.0 L620.0,422.5 L620.9,426.1 L622.0,429.9 L623.1,433.8 L624.2,437.7 L625.3,441.7 L626.4,445.7 L627.5,449.5 L628.4,453.2 L629.3,456.7 L630.0,460.0 L630.6,463.0 L631.1,465.6 L631.5,468.1 L631.8,470.4 L632.0,472.7 L632.2,474.9 L632.4,477.2 L632.4,479.6 L632.5,482.2 L632.5,485.0 L632.4,488.2 L632.3,491.6 L632.1,495.2 L631.8,499.0 L631.5,502.8 L631.1,506.5 L630.8,510.2 L630.5,513.7 L630.2,517.0 L630.0,520.0 L629.9,522.7 L629.8,525.1 L629.8,527.3 L629.8,529.4 L629.8,531.3 L629.7,533.2 L629.6,535.1 L629.5,537.0 L629.2,538.9 L628.8,541.0 L628.2,543.1 L627.5,545.1 L626.8,547.2 L625.9,549.2 L625.0,551.2 L624.1,553.3 L623.1,555.4 L622.1,557.7 L621.0,560.0 L620.0,562.5 L618.9,565.2 L617.8,568.0 L616.6,570.9 L615.4,574.0 L614.2,577.1 L613.0,580.2 L611.7,583.3 L610.5,586.3 L609.2,589.2 L608.0,592.0 L606.7,594.7 L605.4,597.5 L604.0,600.4 L602.6,603.1 L601.2,605.8 L599.9,608.4 L598.7,610.7 L597.6,612.8 L596.7,614.6 L596.0,616.0" fill="none" stroke="#d9e4ef" stroke-width="3" stroke-linecap="round" opacity="1"/>
<path d="M607,232 L607.5,355" fill="none" stroke="#d9e4ef" stroke-width="2" stroke-linecap="round" opacity="1"/>
<path d="M592.0,333.0 L591.0,334.0 L589.7,335.3 L588.1,336.8 L586.3,338.6 L584.4,340.4 L582.5,342.3 L580.5,344.3 L578.5,346.3 L576.7,348.2 L575.0,350.0 L573.4,351.7 L572.0,353.3 L570.5,354.9 L569.1,356.5 L567.7,358.1 L566.3,359.8 L564.8,361.5 L563.3,363.4 L561.7,365.3 L560.0,367.5 L558.1,369.9 L556.1,372.5 L553.9,375.2 L551.7,378.1 L549.5,381.0 L547.2,384.0 L545.1,386.9 L543.2,389.8 L541.5,392.5 L540.0,395.0 L538.8,397.3 L537.8,399.5 L537.0,401.6 L536.4,403.6 L535.9,405.6 L535.4,407.5 L535.0,409.5 L534.6,411.6 L534.2,413.7 L533.8,416.0 L533.2,418.4 L532.7,420.9 L532.2,423.5 L531.7,426.2 L531.2,428.8 L530.8,431.6 L530.4,434.3 L530.1,437.0 L530.0,439.8 L530.0,442.5 L530.1,445.3 L530.4,448.2 L530.7,451.2 L531.1,454.2 L531.6,457.2 L532.2,460.1 L532.9,462.9 L533.5,465.5 L534.3,467.9 L535.0,470.0 L535.8,471.9 L536.8,473.6 L537.9,475.1 L539.1,476.5 L540.3,477.7 L541.5,478.8 L542.6,479.8 L543.6,480.6 L544.4,481.4 L545.0,482.0" fill="none" stroke="#d9e4ef" stroke-width="3" stroke-linecap="round" opacity="1"/>
<path d="M606.0,366.0 L605.8,368.4 L605.6,371.4 L605.3,375.1 L605.0,379.2 L604.7,383.6 L604.4,388.2 L604.0,392.7 L603.5,397.2 L603.0,401.3 L602.5,405.0 L601.9,408.4 L601.3,411.7 L600.7,414.8 L600.0,417.9 L599.3,420.9 L598.6,423.8 L597.7,426.7 L596.9,429.5 L596.0,432.2 L595.0,435.0 L594.0,437.7 L592.8,440.5 L591.6,443.2 L590.4,445.8 L589.1,448.4 L587.7,451.0 L586.4,453.4 L585.1,455.7 L583.8,457.9 L582.5,460.0 L581.2,461.9 L580.0,463.8 L578.7,465.6 L577.4,467.2 L576.1,468.8 L574.8,470.2 L573.6,471.6 L572.3,472.8 L571.1,473.9 L570.0,475.0 L568.9,475.9 L567.7,476.7 L566.5,477.4 L565.3,478.0 L564.2,478.4 L563.2,478.8 L562.2,479.2 L561.3,479.5 L560.6,479.7 L560.0,480.0" fill="none" stroke="#d9e4ef" stroke-width="2.2" stroke-linecap="round" opacity="1"/>
<circle cx="560" cy="226" r="5" fill="#d9e4ef"/><circle cx="561" cy="233" r="6.5" fill="#d9e4ef"/><circle cx="563" cy="241" r="4.5" fill="#d9e4ef"/><circle cx="607" cy="200" r="3" fill="#d9e4ef"/><circle cx="607" cy="206" r="4.5" fill="#d9e4ef"/><circle cx="607.5" cy="215" r="7" fill="#d9e4ef"/><circle cx="607.5" cy="224" r="5" fill="#d9e4ef"/><circle cx="606" cy="356" r="6" fill="#d9e4ef"/><circle cx="606" cy="365" r="8" fill="#d9e4ef"/><circle cx="607" cy="375" r="6" fill="#d9e4ef"/><circle cx="534" cy="407" r="5.5" fill="#d9e4ef"/><circle cx="533.5" cy="416" r="7.5" fill="#d9e4ef"/><circle cx="533" cy="426" r="5.5" fill="#d9e4ef"/><circle cx="582" cy="461" r="3.5" fill="#d9e4ef"/><circle cx="572" cy="272" r="2.5" fill="#d9e4ef"/>
<g transform="translate(500,70) scale(0.30769)" ><ellipse cx="348" cy="206" rx="30" ry="10" fill="#eef3f8"/>
<polygon points="360,240 438,228 438,270 365,296" fill="#6d92c2"/>
<polygon points="293,275 340,258 345,300 293,315" fill="#6d92c2"/>
<path d="M350,203 C365,230 368,300 360,350 L356,400 L344,395 C335,340 332,260 340,225 Z" fill="#0e4279"/>
<polygon points="322,362 376,347 376,371 322,393" fill="#6d92c2"/>
<path d="M344,350 L358,350 L357,398 L346,394 Z" fill="#0e4279"/>
<ellipse cx="338" cy="280" rx="8" ry="22" fill="#c7d3e7"/></g>
<g transform="translate(300,245) scale(0.21668)" ><g fill="#0c4279">
<path d="M440,188 C470,150 520,120 580,120 C640,120 700,150 745,190 L748,215 L705,300 L690,312 L480,312 L468,300 L446,215 Z"/>
<polygon points="168,140 266,140 272,150 452,182 458,222 262,172 168,170"/>
<polygon points="738,183 945,232 1022,240 1022,273 940,271 738,226"/>
<path d="M452,210 C420,300 398,420 383,528 L399,532 C420,430 445,330 480,250 Z"/>
<path d="M712,250 C735,330 730,450 710,570 L726,573 C752,450 757,330 746,225 Z"/>
<rect x="182" y="100" width="68" height="42" rx="4"/>
<path d="M198,102 C198,70 210,57 223,57 C236,57 247,70 247,102 Z"/>
<rect x="950" y="198" width="65" height="42" rx="4"/>
<path d="M962,200 C962,168 972,154 984,154 C996,154 1006,168 1006,200 Z"/>
<path d="M38,56 L200,84 L200,97 L120,80 Z"/><path d="M248,90 L330,88 L412,102 L248,106 Z"/>
<path d="M793,153 L958,182 L958,195 L870,176 Z"/><path d="M1008,186 L1090,185 L1172,200 L1008,203 Z"/>
<rect x="475" y="315" width="212" height="26" rx="5"/>
<rect x="480" y="346" width="212" height="22" rx="5"/>
<rect x="540" y="366" width="66" height="62"/>
<rect x="512" y="418" width="36" height="55" rx="6"/>
<rect x="505" y="440" width="122" height="80" rx="16"/>
<circle cx="560" cy="492" r="36"/>
</g></g>
<g transform="translate(170,280) scale(0.16667)" ><g fill="#0c4279">
<polygon points="298,262 852,207 852,242 298,302"/>
<path d="M466,243 C462,170 520,130 580,130 C640,130 692,165 690,218 Z"/>
<rect x="234" y="238" width="72" height="78" rx="8"/>
<rect x="244" y="192" width="42" height="50" rx="5"/>
<path d="M246,198 C246,165 254,153 263,153 C272,153 280,165 280,198 Z"/>
<rect x="845" y="173" width="76" height="78" rx="8"/>
<rect x="854" y="128" width="42" height="50" rx="5"/>
<path d="M858,134 C858,100 866,88 875,88 C884,88 892,100 892,134 Z"/>
<path d="M62,190 L245,172 L245,186 Z"/><path d="M282,170 L462,148 L285,186 Z"/>
<path d="M678,126 L858,106 L858,120 Z"/><path d="M892,104 L1068,86 L895,122 Z"/>
<path d="M505,300 L415,365 L410,482 L444,482 L440,385 L520,330 Z"/>
<path d="M648,295 L772,340 L786,445 L756,445 L748,362 L640,325 Z"/>
<rect x="553" y="298" width="74" height="46" rx="12"/>
<circle cx="600" cy="426" r="63"/>
<path d="M512,450 C495,380 560,340 620,350 C670,358 700,390 688,425" fill="none" stroke="#0c4279" stroke-width="11"/>
<rect x="497" y="420" width="24" height="42" rx="5"/><rect x="672" y="395" width="24" height="42" rx="5"/>
</g></g>
<g transform="translate(150,80) scale(0.26667)" ><g fill="#0c4279">
<circle cx="537" cy="136" r="24"/>
<polygon points="374,157 528,126 538,146 374,167"/>
<polygon points="536,126 698,90 701,101 548,148"/>
<rect x="353" y="120" width="30" height="14" rx="6"/><rect x="350" y="136" width="36" height="14" rx="6"/><rect x="350" y="152" width="36" height="14" rx="6"/><rect x="350" y="168" width="36" height="14" rx="6"/><rect x="354" y="184" width="28" height="20" rx="8"/><rect x="358" y="125" width="20" height="70"/>
<rect x="686" y="60" width="30" height="14" rx="6"/><rect x="683" y="76" width="36" height="14" rx="6"/><rect x="683" y="92" width="36" height="14" rx="6"/><rect x="683" y="108" width="36" height="14" rx="6"/><rect x="687" y="122" width="28" height="20" rx="8"/><rect x="691" y="65" width="20" height="68"/>
<path d="M283,144 L368,126 L368,138 Z"/><path d="M368,126 L452,112 L368,140 Z"/>
<path d="M608,80 L700,62 L700,74 Z"/><path d="M700,60 L778,49 L700,76 Z"/>
<path d="M525,150 C500,190 478,230 470,276" fill="none" stroke="#0c4279" stroke-width="7"/>
<path d="M555,150 C600,175 640,205 655,248" fill="none" stroke="#0c4279" stroke-width="7"/>
<circle cx="655" cy="250" r="6"/>
<rect x="526" y="158" width="26" height="30"/>
<circle cx="548" cy="196" r="13"/>
<rect x="540" y="212" width="44" height="36" rx="10"/>
</g></g>
<g transform="translate(150,355) scale(0.08333)" ><g fill="#0c4279" stroke="#0c4279">
<path d="M230,240 L520,302 M225,315 L510,362" fill="none" stroke-width="22"/>
<path d="M650,345 L930,482 M625,400 L880,532" fill="none" stroke-width="22"/>
<ellipse cx="205" cy="310" rx="32" ry="68" fill="none" stroke-width="9" transform="rotate(14 205 310)"/>
<ellipse cx="900" cy="545" rx="32" ry="68" fill="none" stroke-width="9" transform="rotate(22 900 545)"/>
<rect x="205" y="175" width="62" height="52" stroke="none" transform="rotate(12 236 200)"/>
<rect x="903" y="410" width="62" height="54" stroke="none" transform="rotate(22 934 437)"/>
<path d="M98,122 L240,180 L382,216 L240,195 Z" stroke="none"/>
<path d="M798,362 L935,425 L1088,462 L935,440 Z" stroke="none"/>
<circle cx="585" cy="335" r="70" stroke-width="14" stroke-dasharray="14,10"/>
<circle cx="585" cy="335" r="56" fill="#0d5a96" stroke="none"/>
<rect x="530" y="400" width="40" height="60" stroke="none" transform="rotate(20 550 430)"/>
<circle cx="520" cy="492" r="32" fill="#0d5a96" stroke="none"/>
<path d="M470,480 C470,440 520,430 555,455 L572,515" fill="none" stroke-width="8"/>
</g></g>
<g transform="translate(595,280) scale(0.10060)" ><g fill="#0c4279"><rect x="240" y="290" width="700" height="28" rx="4"/><path d="M505,300 C500,230 540,190 590,190 C640,190 680,230 675,300 C672,350 640,388 590,388 C540,388 508,350 505,300 Z"/><rect x="237" y="268" width="56" height="52" rx="6"/><rect x="247" y="225" width="36" height="48"/><path d="M249,228 C249,205 257,194 265,194 C273,194 281,205 281,228 Z"/><rect x="392" y="268" width="56" height="52" rx="6"/><rect x="402" y="225" width="36" height="48"/><path d="M404,228 C404,205 412,194 420,194 C428,194 436,205 436,228 Z"/><rect x="727" y="268" width="56" height="52" rx="6"/><rect x="737" y="225" width="36" height="48"/><path d="M739,228 C739,205 747,194 755,194 C763,194 771,205 771,228 Z"/><rect x="882" y="268" width="56" height="52" rx="6"/><rect x="892" y="225" width="36" height="48"/><path d="M894,228 C894,205 902,194 910,194 C918,194 926,205 926,228 Z"/><path d="M120,210 L265,200 L265,222 Z"/><path d="M265,205 L420,200 L420,222 L265,218 Z"/><path d="M420,204 L520,208 L420,222 Z"/><path d="M1058,200 L910,198 L910,220 Z"/><path d="M910,203 L755,198 L755,220 L910,216 Z"/><path d="M755,202 L660,206 L755,220 Z"/><path d="M525,345 C455,400 425,470 450,545" fill="none" stroke="#0c4279" stroke-width="26" stroke-linecap="round" /><path d="M655,345 C725,400 755,470 735,545" fill="none" stroke="#0c4279" stroke-width="26" stroke-linecap="round" /><circle cx="510" cy="370" r="9" fill="#c7d3e7"/><circle cx="475" cy="405" r="9" fill="#c7d3e7"/><circle cx="452" cy="440" r="9" fill="#c7d3e7"/><circle cx="672" cy="370" r="9" fill="#c7d3e7"/><circle cx="708" cy="405" r="9" fill="#c7d3e7"/><circle cx="730" cy="440" r="9" fill="#c7d3e7"/><rect x="565" y="385" width="52" height="60"/><rect x="548" y="420" width="88" height="30" rx="6"/><rect x="518" y="440" width="148" height="100" rx="16"/><circle cx="593" cy="497" r="26" fill="#c9dbe2"/></g></g>
<polygon points="652.6,337.5 656.7,337.5 655.4,602 654.6,602" fill="#8aa7cb"/>
<rect x="0" y="706" width="1200" height="11.5" fill="#6d9f99"/>
<polygon points="700,706.5 900,703.5 1200,699.5 1200,718 700,718" fill="#6d9f99"/>
<g transform="translate(220,520) scale(0.25000)" ><rect x="85" y="665" width="212" height="78" fill="#ebe8d6"/><rect x="295" y="655" width="108" height="88" fill="#bab68f"/><polygon points="225.6,522 440,522 460,552 416,674 184,664 182,644" fill="#b7b38c"/><polygon points="240,544 432,544 404,644 208,640" fill="#ebe8d6"/><polygon points="225.6,522 440,522 432,544 240,544" fill="#8e8a62"/><polygon points="440,522 460,552 416,674 404,644 432,544" fill="#a39f78"/><rect x="497" y="685" width="272" height="99" fill="#ebe8d6"/><rect x="768" y="675" width="133" height="109" fill="#bab68f"/><polygon points="672,504 948,504 972,532 916,696 624,684 628,660" fill="#b7b38c"/><polygon points="692,529.6 940,529.6 900,662.4 652,657.6" fill="#ebe8d6"/><polygon points="672,504 948,504 940,529.6 692,529.6" fill="#8e8a62"/><polygon points="948,504 972,532 916,696 900,662.4 940,529.6" fill="#a39f78"/><rect x="97" y="570" width="30" height="162" fill="#1f9097"/><rect x="132" y="570" width="30" height="162" fill="#1f9097"/><rect x="97" y="570" width="65" height="40" fill="#1f9097"/><ellipse cx="112" cy="738" rx="18" ry="7" fill="#7a4a2a"/><ellipse cx="152" cy="738" rx="18" ry="7" fill="#7a4a2a"/><path d="M95,470 Q125,450 160,468 L166,578 L95,578 Z" fill="#6fb6e8"/><rect x="118" y="435" width="16" height="30" fill="#8c5638"/><circle cx="112" cy="425" r="20" fill="#96603f"/><circle cx="100" cy="410" r="27" fill="#37245a"/><path d="M92,500 L100,540 L150,540 L150,528 L112,525 L106,498 Z" fill="#96603f"/><rect x="132" y="527" width="58" height="20" rx="6" fill="#2f4a63"/><path d="M160,528 L168,500 M175,528 L183,505" stroke="#2f4a63" stroke-width="5"/><path d="M550,585 L530,755 L555,762 L590,640 L598,760 L625,760 L628,585 Z" fill="#1b6fb0"/><ellipse cx="535" cy="772" rx="18" ry="8" fill="#e4572a" transform="rotate(30 535 772)"/><ellipse cx="615" cy="776" rx="20" ry="7" fill="#e4572a"/><path d="M525,480 Q560,455 600,470 L625,590 L548,592 Z" fill="#6fb6e8"/><path d="M563,470 L577,468 L595,588 L580,590 Z" fill="#fff"/><rect x="545" y="445" width="16" height="30" fill="#f0c3a2" transform="rotate(-15 553 460)"/><ellipse cx="533" cy="432" rx="19" ry="22" fill="#f2c6a6" transform="rotate(-20 533 432)"/><path d="M490,425 C490,395 525,392 540,405 C520,410 515,430 528,462 L520,488 C505,470 490,450 490,425 Z" fill="#f0a93b"/><path d="M570,535 L640,545 L640,556 L570,550 Z" fill="#f2c6a6"/><rect x="590" y="530" width="52" height="22" rx="6" fill="#2f4a63"/><path d="M610,530 L606,505 M628,530 L626,500" stroke="#2f4a63" stroke-width="5"/></g>
<g transform="translate(0,520) scale(0.25000)" ><rect x="645" y="735" width="132" height="48" fill="#ebe8d6"/><rect x="775" y="733" width="70" height="50" fill="#bab68f"/><polygon points="735,648 860,648 874,668 845,740 707,732 705,716" fill="#b7b38c"/><polygon points="748,664 852,664 832,718 722,713" fill="#ebe8d6"/><polygon points="735,648 860,648 852,664 748,664" fill="#8e8a62"/><polygon points="860,648 874,668 845,740 832,718 852,664" fill="#a39f78"/><rect x="565" y="600" width="32" height="175" fill="#1e3f68"/><rect x="600" y="600" width="30" height="175" fill="#1e3f68"/><rect x="565" y="595" width="65" height="50" fill="#1e3f68"/><ellipse cx="578" cy="777" rx="22" ry="8" fill="#8a4a2a"/><ellipse cx="618" cy="777" rx="22" ry="8" fill="#8a4a2a"/><path d="M550,495 Q590,470 625,488 L630,602 L562,604 Z" fill="#f08262"/><rect x="570" y="455" width="18" height="30" fill="#e9b592"/><ellipse cx="575" cy="440" rx="22" ry="25" fill="#f0c3a2"/><path d="M540,430 C540,400 570,395 590,408 C575,412 565,425 562,450 C550,450 540,445 540,430 Z" fill="#2c2b5b"/><path d="M548,520 L560,560 L620,545 L618,532 L575,540 L568,515 Z" fill="#f0c3a2"/><rect x="548" y="512" width="24" height="14" fill="#a0452a"/><rect x="600" y="520" width="42" height="32" rx="5" fill="#f4f4f4"/><path d="M625,520 L642,428" stroke="#fff" stroke-width="4"/></g>
<g transform="translate(460,520) scale(0.25000)" ><rect x="232" y="-140" width="18" height="882" fill="#8fb0c9"/><rect x="240" y="-145" width="90" height="12" fill="#8fb0c9"/><path d="M525,470 C525,445 560,445 562,470 L565,500 C600,510 605,560 600,640 L598,740 L545,740 L545,600 C520,590 520,520 535,500 Z" fill="#a9c0d4"/><rect x="668" y="565" width="33" height="170" fill="#2f9349"/><rect x="705" y="565" width="35" height="170" fill="#2f9349"/><rect x="668" y="560" width="72" height="50" fill="#2f9349"/><ellipse cx="683" cy="740" rx="20" ry="6" fill="#3a2a20"/><ellipse cx="728" cy="740" rx="20" ry="6" fill="#3a2a20"/><path d="M642,440 Q690,410 735,435 L745,575 L665,578 Z" fill="#43a05c"/><rect x="660" y="400" width="18" height="32" fill="#f0c3a2"/><ellipse cx="655" cy="385" rx="22" ry="26" fill="#f2c6a6"/><path d="M620,380 C620,350 650,345 668,358 C650,365 640,385 648,420 C655,450 640,475 632,470 C640,440 620,410 620,380 Z" fill="#a9563b"/><path d="M648,470 L665,520 L735,510 L733,495 L680,500 L668,465 Z" fill="#43a05c"/><rect x="700" y="490" width="66" height="26" rx="6" fill="#9cc5e2"/><path d="M738,490 L728,340" stroke="#a8c6dd" stroke-width="3"/><rect x="338" y="555" width="40" height="180" fill="#5f6b30"/><rect x="385" y="555" width="42" height="180" fill="#5f6b30"/><rect x="338" y="550" width="89" height="60" fill="#5f6b30"/><ellipse cx="355" cy="740" rx="22" ry="7" fill="#5a2f1a"/><ellipse cx="408" cy="740" rx="24" ry="7" fill="#5a2f1a"/><path d="M345,430 Q400,395 460,420 L478,520 L440,565 L332,565 L330,500 Z" fill="#5b4022"/><rect x="425" y="385" width="20" height="30" fill="#e9b592"/><ellipse cx="445" cy="392" rx="22" ry="26" fill="#f0c3a2"/><path d="M412,368 C415,345 470,342 492,362 L470,372 L415,380 Z" fill="#b7794b"/><path d="M415,375 L440,372 L432,410 L418,400 Z" fill="#4a3320"/><path d="M380,520 L400,548 L470,545 L470,532 L415,528 L400,505 Z" fill="#5b4022"/><rect x="405" y="530" width="66" height="18" rx="6" fill="#243a5a"/><path d="M445,530 L470,430" stroke="#a8c6dd" stroke-width="3"/><path d="M578,490 C590,500 610,560 606,578 C598,570 580,520 578,490 Z M604,592 C615,600 628,650 622,672 C612,660 602,620 604,592 Z" fill="#fff"/><path d="M72,642 L118,628 L160,682 L330,622 C400,590 500,570 590,568 C615,568 625,580 615,592 C590,620 520,655 350,700 L80,737 Z" fill="#00437a"/><path d="M326,612 C340,568 420,552 458,590 L444,606 L345,628 Z" fill="#dcdfd2" opacity="0.88"/><path d="M488,660 L500,660 L515,722 L503,722 Z" fill="#00437a"/><ellipse cx="497" cy="714" rx="48" ry="14" fill="#00437a"/><circle cx="510" cy="730" r="13" fill="#1c2f4a"/><circle cx="125" cy="738" r="7" fill="#1c2f4a"/><path d="M100,690 L230,672 L235,680 L140,700 Z" fill="#2c64a0"/></g>
<g transform="translate(548,474.5) rotate(9.5)"><path d="M-11,10 L0,1.5 M-11,10 L0,17.5" stroke="#8fb3cc" stroke-width="1.2" fill="none"/><path d="M0,0 C30,-3 60,3 89,0 L89,19 C60,22 30,16 0,19 Z" fill="#8fb3cc"/><text x="4" y="14" font-size="11" font-weight="bold" fill="#00437a" text-anchor="start" textLength="78" lengthAdjust="spacingAndGlyphs" font-style="italic">Modellflugplatz</text></g>
<path d="M181.7,408.3 L181.7,407.6 L181.6,406.7 L181.6,405.7 L181.6,404.5 L181.6,403.3 L181.5,402.0 L181.4,400.7 L181.3,399.4 L181.2,398.1 L181.0,397.0 L180.8,395.8 L180.6,394.5 L180.4,393.2 L180.2,391.8 L179.9,390.5 L179.6,389.3 L179.2,388.2 L178.8,387.4 L178.2,386.9 L177.5,386.7 L176.7,386.8 L175.9,387.1 L175.0,387.6 L174.0,388.3 L173.0,389.3 L171.8,390.4 L170.6,391.7 L169.2,393.3 L167.7,395.0 L166.0,397.0 L164.1,399.3 L161.8,401.9 L159.3,404.7 L156.7,407.8 L154.0,411.1 L151.3,414.5 L148.7,418.0 L146.4,421.4 L144.3,424.9 L142.6,428.2 L141.2,431.5 L139.8,434.7 L138.6,437.9 L137.6,441.2 L136.7,444.5 L136.1,447.9 L135.7,451.4 L135.6,454.9 L135.7,458.5 L136.2,462.3 L137.0,466.3 L138.1,470.5 L139.5,475.0 L141.1,479.5 L143.0,484.1 L145.1,488.7 L147.4,493.1 L149.9,497.3 L152.6,501.3 L155.4,504.9 L158.5,508.2 L161.8,511.2 L165.5,513.9 L169.3,516.5 L173.4,519.0 L177.5,521.3 L181.6,523.6 L185.7,525.8 L189.8,528.1 L193.7,530.4 L197.6,532.7 L201.7,534.8 L205.9,536.8 L210.0,538.8 L214.2,540.8 L218.2,542.8 L222.1,544.8 L225.7,547.0 L229.0,549.2 L232.0,551.7 L234.7,554.3 L237.4,557.1 L239.9,559.9 L242.2,562.8 L244.2,565.9 L246.0,568.9 L247.4,572.1 L248.4,575.2 L248.9,578.4 L249.0,581.6 L248.5,584.9 L247.5,588.3 L246.0,591.8 L244.1,595.3 L241.9,598.9 L239.3,602.4 L236.6,605.9 L233.7,609.3 L230.8,612.5 L227.8,615.6 L224.5,618.5 L220.8,621.3 L216.8,624.0 L212.5,626.7 L208.1,629.2 L203.8,631.7 L199.7,634.1 L195.8,636.5 L192.4,638.9 L189.5,641.2 L187.1,643.5 L185.0,645.7 L183.1,647.9 L181.5,650.0 L180.2,652.1 L179.1,654.2 L178.2,656.2 L177.5,658.3 L177.0,660.4 L176.7,662.5 L176.7,664.6 L177.1,666.8 L177.8,669.0 L178.7,671.2 L179.8,673.4 L180.9,675.6 L182.1,677.7 L183.3,679.8 L184.3,681.8 L185.2,683.8 L186.0,685.8 L186.7,687.8 L187.5,689.8 L188.2,691.8 L188.9,693.7 L189.6,695.5 L190.2,697.2 L190.8,698.6 L191.2,699.9 L191.6,700.9" fill="none" stroke="#7f9ec6" stroke-width="2.5" stroke-linecap="round" opacity="0.75"/>
<path d="M259.8,368.5 L258.9,370.0 L257.5,372.0 L255.8,374.3 L253.9,376.9 L251.9,379.6 L250.1,382.6 L248.6,385.5 L247.4,388.5 L246.9,391.3 L247.0,394.0 L247.8,396.5 L249.1,398.9 L250.9,401.3 L253.0,403.7 L255.5,406.0 L258.2,408.5 L261.1,411.1 L264.2,413.8 L267.3,416.6 L270.4,419.7 L273.7,423.0 L277.4,426.6 L281.3,430.3 L285.4,434.1 L289.6,438.1 L293.8,442.1 L297.9,446.1 L301.8,450.1 L305.5,454.1 L308.8,458.0 L311.9,461.8 L314.8,465.7 L317.7,469.6 L320.4,473.5 L322.9,477.4 L325.2,481.3 L327.4,485.1 L329.3,488.9 L330.9,492.6 L332.2,496.3 L333.2,499.9 L334.0,503.3 L334.5,506.7 L334.8,510.0 L334.9,513.3 L334.7,516.7 L334.3,520.0 L333.8,523.4 L333.1,526.8 L332.2,530.4 L331.1,534.1 L329.7,537.8 L328.0,541.6 L326.2,545.5 L324.2,549.3 L322.1,553.2 L319.8,557.2 L317.6,561.1 L315.3,564.9 L313.0,568.8 L310.6,572.7 L307.9,576.6 L305.1,580.6 L302.1,584.5 L299.2,588.5 L296.3,592.4 L293.6,596.2 L291.2,600.0 L289.1,603.6 L287.5,607.1 L286.3,610.4 L285.4,613.6 L284.7,616.7 L284.3,619.7 L284.1,622.6 L284.1,625.5 L284.3,628.3 L284.5,631.2 L284.9,634.1 L285.3,637.0 L285.9,640.0 L286.7,643.0 L287.8,646.1 L289.0,649.1 L290.2,652.2 L291.6,655.2 L292.9,658.2 L294.1,661.1 L295.1,664.0 L296.0,666.8 L296.7,669.6 L297.3,672.6 L297.9,675.6 L298.4,678.5 L298.8,681.4 L299.2,684.1 L299.5,686.7 L299.8,688.9 L300.1,690.8 L300.3,692.3" fill="none" stroke="#7f9ec6" stroke-width="2.5" stroke-linecap="round" opacity="0.75"/>
<path d="M414.6,368.5 L414.1,369.2 L413.4,370.0 L412.4,371.1 L411.4,372.2 L410.3,373.4 L409.4,374.7 L408.6,376.0 L408.1,377.2 L407.9,378.3 L408.2,379.2 L408.9,379.9 L410.0,380.4 L411.4,380.7 L413.1,380.9 L415.0,381.2 L417.0,381.6 L419.0,382.1 L421.2,382.9 L423.2,384.0 L425.2,385.6 L427.2,387.6 L429.3,389.9 L431.4,392.4 L433.6,395.2 L435.8,398.2 L438.1,401.4 L440.3,404.8 L442.4,408.2 L444.5,411.8 L446.5,415.4 L448.5,419.1 L450.5,423.1 L452.6,427.2 L454.7,431.5 L456.7,435.9 L458.5,440.3 L460.2,444.8 L461.6,449.3 L462.8,453.7 L463.6,458.0 L464.1,462.3 L464.4,466.5 L464.4,470.8 L464.2,475.0 L463.9,479.3 L463.3,483.6 L462.5,487.8 L461.6,492.1 L460.5,496.3 L459.3,500.6 L457.9,504.9 L456.1,509.2 L454.2,513.5 L452.0,517.8 L449.7,522.2 L447.3,526.5 L444.9,530.7 L442.5,534.9 L440.2,539.1 L438.0,543.2 L435.8,547.2 L433.5,551.3 L431.1,555.3 L428.8,559.3 L426.4,563.2 L424.1,567.1 L422.0,570.8 L420.0,574.5 L418.2,578.1 L416.7,581.6 L415.4,584.9 L414.2,588.2 L413.2,591.3 L412.4,594.3 L411.6,597.3 L411.1,600.2 L410.7,603.0 L410.4,605.8 L410.3,608.6 L410.3,611.4 L410.5,614.1 L411.0,616.7 L411.8,619.3 L412.6,621.7 L413.6,624.2 L414.7,626.7 L415.8,629.1 L416.9,631.7 L417.9,634.3 L418.8,637.0 L419.7,639.8 L420.7,642.7 L421.6,645.6 L422.6,648.6 L423.6,651.6 L424.6,654.7 L425.4,657.7 L426.2,660.8 L426.9,663.8 L427.4,666.8 L427.7,669.9 L428.0,673.2 L428.0,676.7 L428.0,680.2 L427.9,683.6 L427.8,686.8 L427.7,689.9 L427.5,692.5 L427.4,694.8 L427.4,696.6" fill="none" stroke="#7f9ec6" stroke-width="2.5" stroke-linecap="round" opacity="0.75"/>
<text x="35" y="212.5" font-size="15.5" font-weight="bold" fill="#0d417b" text-anchor="start" textLength="120" lengthAdjust="spacingAndGlyphs" stroke="#0d417b" stroke-width="0.3">ab 100 m Flughöhe</text>
<text x="34" y="240" font-size="15.5" font-weight="bold" fill="#0d417b" text-anchor="start" textLength="381" lengthAdjust="spacingAndGlyphs" stroke="#0d417b" stroke-width="0.3">Generell dürfen Drohnen nur in Sichtweite geflogen werden</text>
<text x="307.3" y="165.3" font-size="16" font-weight="bold" fill="#0d417b" text-anchor="start" textLength="133.5" lengthAdjust="spacingAndGlyphs" stroke="#0d417b" stroke-width="0.3">gewichtsunabhängig</text>
<text x="129.5" y="585.6" font-size="14.5" font-weight="bold" fill="#0d417b" text-anchor="start" textLength="15" lengthAdjust="spacingAndGlyphs" stroke="#0d417b" stroke-width="0.4" stroke-linejoin="round">ab</text>
<text x="148.8" y="585.6" font-size="38.5" font-weight="bold" fill="#0d417b" text-anchor="start" textLength="62.5" lengthAdjust="spacingAndGlyphs" stroke="#0d417b" stroke-width="1.0" stroke-linejoin="round">0,25</text>
<text x="219.8" y="585.6" font-size="22" font-weight="bold" fill="#0d417b" text-anchor="start" textLength="20.2" lengthAdjust="spacingAndGlyphs" stroke="#0d417b" stroke-width="0.6" stroke-linejoin="round">kg</text>
<text x="273.5" y="585.6" font-size="14.5" font-weight="bold" fill="#0d417b" text-anchor="start" textLength="15" lengthAdjust="spacingAndGlyphs" stroke="#0d417b" stroke-width="0.4" stroke-linejoin="round">ab</text>
<text x="293.9" y="585.6" font-size="38.5" font-weight="bold" fill="#0d417b" text-anchor="start" textLength="17.2" lengthAdjust="spacingAndGlyphs" stroke="#0d417b" stroke-width="1.0" stroke-linejoin="round">2</text>
<text x="317.2" y="585.6" font-size="22" font-weight="bold" fill="#0d417b" text-anchor="start" textLength="20.2" lengthAdjust="spacingAndGlyphs" stroke="#0d417b" stroke-width="0.6" stroke-linejoin="round">kg</text>
<text x="392.3" y="585.6" font-size="14.5" font-weight="bold" fill="#0d417b" text-anchor="start" textLength="15" lengthAdjust="spacingAndGlyphs" stroke="#0d417b" stroke-width="0.4" stroke-linejoin="round">ab</text>
<text x="412.2" y="585.6" font-size="38.5" font-weight="bold" fill="#0d417b" text-anchor="start" textLength="16.6" lengthAdjust="spacingAndGlyphs" stroke="#0d417b" stroke-width="1.0" stroke-linejoin="round">5</text>
<text x="436.2" y="585.6" font-size="22" font-weight="bold" fill="#0d417b" text-anchor="start" textLength="20.2" lengthAdjust="spacingAndGlyphs" stroke="#0d417b" stroke-width="0.6" stroke-linejoin="round">kg</text>
<text x="531" y="535" font-size="15.5" font-weight="bold" fill="#0d417b" text-anchor="start" textLength="115" lengthAdjust="spacingAndGlyphs" stroke="#0d417b" stroke-width="0.3">Mit Ausnahme der</text>
<text x="531" y="554" font-size="15.5" font-weight="bold" fill="#0d417b" text-anchor="start" textLength="146" lengthAdjust="spacingAndGlyphs" stroke="#0d417b" stroke-width="0.3">Kennzeichnungspflicht</text>
<text x="531" y="573" font-size="15.5" font-weight="bold" fill="#0d417b" text-anchor="start" textLength="150" lengthAdjust="spacingAndGlyphs" stroke="#0d417b" stroke-width="0.3">von den Neuregelungen</text>
<text x="531" y="592" font-size="15.5" font-weight="bold" fill="#0d417b" text-anchor="start" textLength="64" lengthAdjust="spacingAndGlyphs" stroke="#0d417b" stroke-width="0.3">unberührt</text>
<text x="1003" y="241.7" font-size="15" font-weight="bold" fill="#0d417b" text-anchor="start" textLength="179" lengthAdjust="spacingAndGlyphs" stroke="#0d417b" stroke-width="0.3">Verfassungsorgane, Bundes-</text>
<text x="1031" y="261.2" font-size="15" font-weight="bold" fill="#0d417b" text-anchor="start" textLength="138.6" lengthAdjust="spacingAndGlyphs" stroke="#0d417b" stroke-width="0.3">oder Landesbehörden</text>
<text x="807.5" y="400" font-size="15" font-weight="bold" fill="#0d417b" text-anchor="start" textLength="197.5" lengthAdjust="spacingAndGlyphs" stroke="#0d417b" stroke-width="0.3">Kontrollzonen von Flugplätzen</text>
<text x="1047.5" y="468.75" font-size="15" font-weight="bold" fill="#0d417b" text-anchor="start" textLength="108.5" lengthAdjust="spacingAndGlyphs" stroke="#0d417b" stroke-width="0.3">Industrieanlagen</text>
<text x="973" y="573" font-size="15" font-weight="bold" fill="#0d417b" text-anchor="start" textLength="125.8" lengthAdjust="spacingAndGlyphs" stroke="#0d417b" stroke-width="0.3">Naturschutzgebiete</text>
<text x="750.3" y="549.6" font-size="15" font-weight="bold" fill="#0d417b" text-anchor="start" textLength="117.6" lengthAdjust="spacingAndGlyphs" stroke="#0d417b" stroke-width="0.3">Wohngrundstücke</text>
<text x="728.4" y="602.4" font-size="15" font-weight="bold" fill="#0d417b" text-anchor="start" textLength="163.6" lengthAdjust="spacingAndGlyphs" stroke="#0d417b" stroke-width="0.3">Menschenansammlungen</text>
<text x="965.5" y="610" font-size="15" font-weight="bold" fill="#0d417b" text-anchor="start" textLength="142" lengthAdjust="spacingAndGlyphs" stroke="#0d417b" stroke-width="0.3">Einsatzorte der Polizei</text>
<text x="975" y="628.75" font-size="15" font-weight="bold" fill="#0d417b" text-anchor="start" textLength="123.75" lengthAdjust="spacingAndGlyphs" stroke="#0d417b" stroke-width="0.3">und Rettungskräfte</text>
<rect x="0" y="717" width="1200" height="2" fill="#00437a"/>
<rect x="0" y="719" width="1200" height="5" fill="#fff"/>
<rect x="0" y="724" width="1200" height="11.5" fill="#00437a"/>
<rect x="0" y="735.5" width="1200" height="110" fill="#fff"/>
<text x="33" y="713.6" font-size="12" font-weight="normal" fill="#2a2a2a" text-anchor="start" textLength="69" lengthAdjust="spacingAndGlyphs">Quelle: BMVI</text>
<circle cx="23.3" cy="756.8" r="6.3" fill="#c20e12"/>
<text x="23.3" y="760.4" font-size="10" font-weight="bold" fill="#fff" text-anchor="middle">1</text>
<text x="33.5" y="761.0" font-size="12" font-weight="bold" fill="#161616" text-anchor="start" textLength="125" lengthAdjust="spacingAndGlyphs" stroke="#161616" stroke-width="0.25">Kennzeichnungspflicht:</text>
<text x="158.5" y="761.0" font-size="12" font-weight="normal" fill="#161616" text-anchor="start" textLength="638.5" lengthAdjust="spacingAndGlyphs" xml:space="preserve" stroke="#161616" stroke-width="0.28"> Ab 0,25 kg muss eine Plakette mit Namen und Adresse des Eigentümers angebracht werden – auch auf Modellfluggeländen.</text>
<circle cx="23.3" cy="780.1999999999999" r="6.3" fill="#c20e12"/>
<text x="23.3" y="783.8" font-size="10" font-weight="bold" fill="#fff" text-anchor="middle">2</text>
<text x="33.5" y="784.4" font-size="12" font-weight="bold" fill="#161616" text-anchor="start" textLength="98" lengthAdjust="spacingAndGlyphs" stroke="#161616" stroke-width="0.25">Kenntnisnachweis:</text>
<text x="131.5" y="784.4" font-size="12" font-weight="normal" fill="#161616" text-anchor="start" textLength="329.0" lengthAdjust="spacingAndGlyphs" xml:space="preserve" stroke="#161616" stroke-width="0.28"> Ab 2,0 kg müssen besondere Kenntnisse nachgewiesen werden.</text>
<circle cx="23.3" cy="803.5" r="6.3" fill="#c20e12"/>
<text x="23.3" y="807.1" font-size="10" font-weight="bold" fill="#fff" text-anchor="middle">3</text>
<text x="33.5" y="807.7" font-size="12" font-weight="bold" fill="#161616" text-anchor="start" textLength="87" lengthAdjust="spacingAndGlyphs" stroke="#161616" stroke-width="0.25">Erlaubnispflicht:</text>
<text x="120.5" y="807.7" font-size="12" font-weight="normal" fill="#161616" text-anchor="start" textLength="393.9" lengthAdjust="spacingAndGlyphs" xml:space="preserve" stroke="#161616" stroke-width="0.28"> Ab 5,0 kg wird eine spezielle Erlaubnis der Landesluftfahrtbehörde benötigt.</text>
<circle cx="23.3" cy="826.8" r="6.3" fill="#c20e12"/>
<text x="23.3" y="830.4" font-size="10" font-weight="bold" fill="#fff" text-anchor="middle">4</text>
<text x="33.5" y="831.0" font-size="12" font-weight="bold" fill="#161616" text-anchor="start" textLength="125" lengthAdjust="spacingAndGlyphs" stroke="#161616" stroke-width="0.25">Grundsätzlich verboten:</text>
<text x="158.5" y="831.0" font-size="12" font-weight="normal" fill="#161616" text-anchor="start" textLength="684.5" lengthAdjust="spacingAndGlyphs" xml:space="preserve" stroke="#161616" stroke-width="0.28"> Ab 100m dürfen Drohnen nur fliegen, wenn eine behördliche Ausnahmeerlaubnis bei den Landesluftfahrtbehörden eingeholt wurde.</text>
<text x="855" y="761.0" font-size="12" font-weight="normal" fill="#161616" text-anchor="start" textLength="203" lengthAdjust="spacingAndGlyphs" stroke="#161616" stroke-width="0.28">Weitere Überflugverbotsbereiche siehe:</text>
<text x="1061" y="761.0" font-size="12" font-weight="normal" fill="#1f5f9a" text-anchor="start" textLength="119" lengthAdjust="spacingAndGlyphs" stroke="#1f5f9a" stroke-width="0.28">www.bmvi.de/drohnen</text>
</svg>
</body></html>
